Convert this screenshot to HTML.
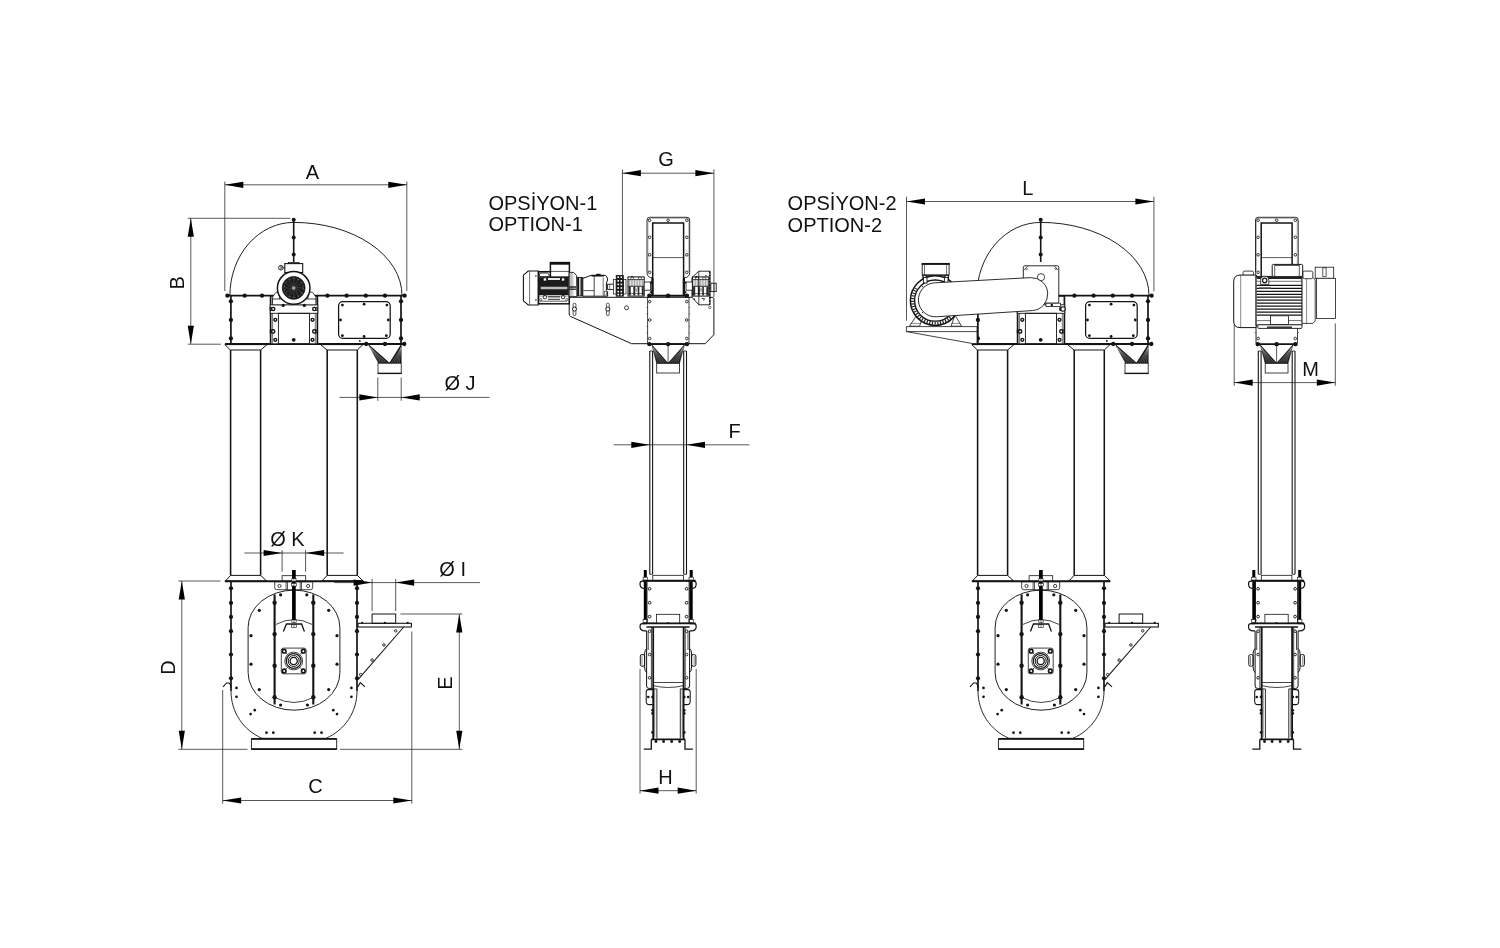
<!DOCTYPE html>
<html lang="tr"><head><meta charset="utf-8"><title>Elevator dimensions</title>
<style>
html,body{margin:0;padding:0;background:#fff}
svg{display:block;will-change:transform;filter:grayscale(1)}
text{font-family:"Liberation Sans",Arial,sans-serif;fill:#111}
</style></head><body>
<svg width="1500" height="948" viewBox="0 0 1500 948">
<rect width="1500" height="948" fill="#fff"/>
<path d="M229.9,295.5 A63.8,73.1 0 0 1 293.7,222.4 A108.3,73.1 0 0 1 402,295.5" fill="none" stroke="#141414" stroke-width="0.95"/>
<line x1="293.7" y1="219.8" x2="293.7" y2="262" stroke="#141414" stroke-width="1.6"/>
<circle cx="293.7" cy="219.8" r="2.0" fill="#141414"/>
<circle cx="293.7" cy="237.5" r="2.0" fill="#141414"/>
<circle cx="293.7" cy="254.6" r="2.0" fill="#141414"/>
<line x1="226.5" y1="295.7" x2="405.2" y2="295.7" stroke="#141414" stroke-width="1.8"/>
<line x1="225" y1="344" x2="405.2" y2="344" stroke="#141414" stroke-width="1.9"/>
<line x1="230.9" y1="295.7" x2="230.9" y2="344" stroke="#141414" stroke-width="1.7"/>
<line x1="401" y1="295.7" x2="401" y2="344" stroke="#141414" stroke-width="1.7"/>
<circle cx="227.4" cy="295.7" r="2.15" fill="#141414"/>
<circle cx="244.7" cy="295.7" r="2.15" fill="#141414"/>
<circle cx="262" cy="295.7" r="2.15" fill="#141414"/>
<circle cx="327.4" cy="295.7" r="2.15" fill="#141414"/>
<circle cx="346.6" cy="295.7" r="2.15" fill="#141414"/>
<circle cx="365.8" cy="295.7" r="2.15" fill="#141414"/>
<circle cx="385" cy="295.7" r="2.15" fill="#141414"/>
<circle cx="404.6" cy="295.7" r="2.15" fill="#141414"/>
<circle cx="230.9" cy="301.3" r="2.15" fill="#141414"/>
<circle cx="401" cy="301.3" r="2.15" fill="#141414"/>
<circle cx="230.9" cy="320" r="2.15" fill="#141414"/>
<circle cx="401" cy="320" r="2.15" fill="#141414"/>
<circle cx="230.9" cy="338.4" r="2.15" fill="#141414"/>
<circle cx="401" cy="338.4" r="2.15" fill="#141414"/>
<circle cx="366.2" cy="344" r="2.15" fill="#141414"/>
<circle cx="385" cy="344" r="2.15" fill="#141414"/>
<circle cx="404.3" cy="344" r="2.15" fill="#141414"/>
<circle cx="359.8" cy="340.9" r="0.9" fill="#141414"/>
<rect x="338.6" y="301.7" width="51.6" height="36.7" rx="4.2" fill="none" stroke="#141414" stroke-width="1.25"/>
<circle cx="342.4" cy="305.1" r="1.4" fill="#141414"/>
<circle cx="364.1" cy="304.2" r="1.4" fill="#141414"/>
<circle cx="386.9" cy="305.1" r="1.4" fill="#141414"/>
<circle cx="340.5" cy="320" r="1.4" fill="#141414"/>
<circle cx="388.3" cy="320" r="1.4" fill="#141414"/>
<circle cx="342.4" cy="335.7" r="1.4" fill="#141414"/>
<circle cx="364.1" cy="336.5" r="1.4" fill="#141414"/>
<circle cx="386.3" cy="335.7" r="1.4" fill="#141414"/>
<polygon points="224.8,344.6 267,344.6 260.6,350 230.4,350" fill="none" stroke="#141414" stroke-width="1.0" stroke-linejoin="round"/>
<polygon points="320.6,344.6 362.9,344.6 357.3,350 327,350" fill="none" stroke="#141414" stroke-width="1.0" stroke-linejoin="round"/>
<line x1="230.6" y1="350" x2="230.6" y2="575.4" stroke="#141414" stroke-width="1.55"/>
<line x1="260.6" y1="350" x2="260.6" y2="575.4" stroke="#141414" stroke-width="1.55"/>
<line x1="327.2" y1="350" x2="327.2" y2="575.4" stroke="#141414" stroke-width="1.55"/>
<line x1="357.3" y1="350" x2="357.3" y2="575.4" stroke="#141414" stroke-width="1.55"/>
<polygon points="230.6,575.4 260.6,575.4 266.7,581 225.4,581" fill="none" stroke="#141414" stroke-width="1.0" stroke-linejoin="round"/>
<polygon points="327.2,575.4 357.3,575.4 363.2,581 321.9,581" fill="none" stroke="#141414" stroke-width="1.0" stroke-linejoin="round"/>
<polygon points="368.5,344.6 378.6,363.1 389.5,363.1" fill="#141414" stroke="#141414" stroke-width="0.6" stroke-linejoin="round"/>
<polygon points="401.2,344.6 401.2,363.1 389.5,363.1" fill="#141414" stroke="#141414" stroke-width="0.6" stroke-linejoin="round"/>
<line x1="370.01" y1="347.38" x2="380.42" y2="363.1" stroke="#bbb" stroke-width="0.35"/>
<line x1="401.2" y1="347.38" x2="391.45" y2="363.1" stroke="#bbb" stroke-width="0.35"/>
<line x1="370.01" y1="347.38" x2="382.23" y2="363.1" stroke="#bbb" stroke-width="0.35"/>
<line x1="401.2" y1="347.38" x2="393.4" y2="363.1" stroke="#bbb" stroke-width="0.35"/>
<line x1="370.01" y1="347.38" x2="384.05" y2="363.1" stroke="#bbb" stroke-width="0.35"/>
<line x1="401.2" y1="347.38" x2="395.35" y2="363.1" stroke="#bbb" stroke-width="0.35"/>
<line x1="370.01" y1="347.38" x2="385.87" y2="363.1" stroke="#bbb" stroke-width="0.35"/>
<line x1="401.2" y1="347.38" x2="397.3" y2="363.1" stroke="#bbb" stroke-width="0.35"/>
<line x1="370.01" y1="347.38" x2="387.68" y2="363.1" stroke="#bbb" stroke-width="0.35"/>
<line x1="401.2" y1="347.38" x2="399.25" y2="363.1" stroke="#bbb" stroke-width="0.35"/>
<rect x="378" y="363.1" width="23.2" height="10.3" rx="0" fill="none" stroke="#141414" stroke-width="0.8"/>
<line x1="377.6" y1="373.4" x2="401.6" y2="373.4" stroke="#141414" stroke-width="1.4"/>
<rect x="270.2" y="296.4" width="47.6" height="47.4" rx="0" fill="#fff" stroke="#141414" stroke-width="0.8"/>
<line x1="270.7" y1="296.4" x2="270.7" y2="343.8" stroke="#141414" stroke-width="1.5"/>
<line x1="317.3" y1="296.4" x2="317.3" y2="343.8" stroke="#141414" stroke-width="1.5"/>
<rect x="270.2" y="304.8" width="47.6" height="8.5" rx="0" fill="#fff" stroke="#141414" stroke-width="0.9"/>
<rect x="278.4" y="313.3" width="31.1" height="30.5" rx="0" fill="none" stroke="#141414" stroke-width="0.9"/>
<line x1="272.6" y1="313.3" x2="272.6" y2="343.8" stroke="#141414" stroke-width="0.6"/>
<line x1="315.3" y1="313.3" x2="315.3" y2="343.8" stroke="#141414" stroke-width="0.6"/>
<rect x="270.2" y="307.6" width="3" height="2.8" rx="0" fill="none" stroke="#141414" stroke-width="0.9"/>
<circle cx="273.2" cy="309" r="1.6" fill="#fff" stroke="#141414" stroke-width="1.4"/>
<rect x="270.2" y="330" width="3" height="2.8" rx="0" fill="none" stroke="#141414" stroke-width="0.9"/>
<circle cx="273.2" cy="331.4" r="1.6" fill="#fff" stroke="#141414" stroke-width="1.4"/>
<rect x="314.3" y="307.6" width="3" height="2.8" rx="0" fill="none" stroke="#141414" stroke-width="0.9"/>
<circle cx="314.3" cy="309" r="1.6" fill="#fff" stroke="#141414" stroke-width="1.4"/>
<rect x="314.3" y="330" width="3" height="2.8" rx="0" fill="none" stroke="#141414" stroke-width="0.9"/>
<circle cx="314.3" cy="331.4" r="1.6" fill="#fff" stroke="#141414" stroke-width="1.4"/>
<circle cx="275.3" cy="319.8" r="1.45" fill="none" stroke="#141414" stroke-width="1.4"/>
<circle cx="275.3" cy="339.8" r="1.45" fill="none" stroke="#141414" stroke-width="1.4"/>
<circle cx="312.5" cy="319.8" r="1.45" fill="none" stroke="#141414" stroke-width="1.4"/>
<circle cx="312.5" cy="339.8" r="1.45" fill="none" stroke="#141414" stroke-width="1.4"/>
<circle cx="293.7" cy="339.8" r="1.9" fill="#141414"/>
<polygon points="272.6,302.7 272.6,297 276,292.2 279.5,292.2 279.5,302.7" fill="#fff" stroke="#141414" stroke-width="0.8" stroke-linejoin="round"/>
<polygon points="315.9,302.7 315.9,297 312.5,292.2 308,292.2 308,302.7" fill="#fff" stroke="#141414" stroke-width="0.8" stroke-linejoin="round"/>
<rect x="272.6" y="299" width="43.3" height="5.8" rx="0" fill="#fff" stroke="#141414" stroke-width="0.8"/>
<rect x="288.5" y="262.4" width="10.5" height="3.1" rx="0" fill="#fff" stroke="#141414" stroke-width="0.8"/>
<rect x="284.8" y="263.6" width="17.9" height="8.9" rx="0" fill="#fff" stroke="#141414" stroke-width="1.1"/>
<circle cx="280.9" cy="267.7" r="2.3" fill="#fff" stroke="#141414" stroke-width="0.9"/>
<line x1="280.9" y1="265.6" x2="280.9" y2="269.8" stroke="#141414" stroke-width="0.7"/>
<line x1="281" y1="267.7" x2="284.8" y2="267.7" stroke="#141414" stroke-width="0.7"/>
<circle cx="293.7" cy="287.9" r="16.3" fill="#fff" stroke="#141414" stroke-width="1.5"/>
<circle cx="293.7" cy="287.9" r="11.4" fill="#1c1c1c" stroke="#141414" stroke-width="0.8"/>
<line x1="295.66" y1="288.3" x2="302.74" y2="293.44" stroke="#777" stroke-width="0.35"/>
<line x1="295.2" y1="289.22" x2="298.76" y2="297.22" stroke="#777" stroke-width="0.35"/>
<line x1="294.34" y1="289.8" x2="293.42" y2="298.5" stroke="#777" stroke-width="0.35"/>
<line x1="293.3" y1="289.86" x2="288.16" y2="296.94" stroke="#777" stroke-width="0.35"/>
<line x1="292.38" y1="289.4" x2="284.38" y2="292.96" stroke="#777" stroke-width="0.35"/>
<line x1="291.8" y1="288.54" x2="283.1" y2="287.62" stroke="#777" stroke-width="0.35"/>
<line x1="291.74" y1="287.5" x2="284.66" y2="282.36" stroke="#777" stroke-width="0.35"/>
<line x1="292.2" y1="286.58" x2="288.64" y2="278.58" stroke="#777" stroke-width="0.35"/>
<line x1="293.06" y1="286" x2="293.98" y2="277.3" stroke="#777" stroke-width="0.35"/>
<line x1="294.1" y1="285.94" x2="299.24" y2="278.86" stroke="#777" stroke-width="0.35"/>
<line x1="295.02" y1="286.4" x2="303.02" y2="282.84" stroke="#777" stroke-width="0.35"/>
<line x1="295.6" y1="287.26" x2="304.3" y2="288.18" stroke="#777" stroke-width="0.35"/>
<circle cx="293.7" cy="287.9" r="9.6" fill="none" stroke="#999" stroke-width="0.5" stroke-dasharray="2 2.4"/>
<circle cx="293.7" cy="287.9" r="1.5" fill="#999" stroke="#ccc" stroke-width="0.5"/>
<circle cx="283.2" cy="305.4" r="1.6" fill="#141414"/>
<circle cx="304.3" cy="305.4" r="1.6" fill="#141414"/>
<line x1="224.8" y1="581.3" x2="363.2" y2="581.3" stroke="#141414" stroke-width="1.9"/>
<line x1="231" y1="581.4" x2="231" y2="691" stroke="#141414" stroke-width="1.7"/>
<line x1="357" y1="581.4" x2="357" y2="691" stroke="#141414" stroke-width="1.7"/>
<circle cx="231" cy="588.3" r="2.1" fill="#141414"/>
<circle cx="357" cy="588.3" r="2.1" fill="#141414"/>
<circle cx="231" cy="602.9" r="2.1" fill="#141414"/>
<circle cx="357" cy="602.9" r="2.1" fill="#141414"/>
<circle cx="231" cy="616.9" r="2.1" fill="#141414"/>
<circle cx="357" cy="616.9" r="2.1" fill="#141414"/>
<circle cx="231" cy="631.2" r="2.1" fill="#141414"/>
<circle cx="357" cy="631.2" r="2.1" fill="#141414"/>
<circle cx="231" cy="654.5" r="2.1" fill="#141414"/>
<circle cx="357" cy="654.5" r="2.1" fill="#141414"/>
<circle cx="231" cy="678.3" r="2.1" fill="#141414"/>
<circle cx="357" cy="678.3" r="2.1" fill="#141414"/>
<path d="M231,691 C231,712 243,730 262,738.3 L326,738.3 C345,730 357,712 357,691" fill="none" stroke="#141414" stroke-width="0.9"/>
<rect x="251.4" y="738.9" width="85.3" height="10.2" rx="0" fill="none" stroke="#141414" stroke-width="0.9"/>
<line x1="251.4" y1="738.9" x2="336.7" y2="738.9" stroke="#141414" stroke-width="1.6"/>
<line x1="251.4" y1="749.1" x2="336.7" y2="749.1" stroke="#141414" stroke-width="1.6"/>
<path d="M223,686.9 L226.6,683 L229,683 Q231,684 231,688" fill="none" stroke="#141414" stroke-width="1.1"/>
<path d="M357.4,687.4 L360.3,682.6 L365,686.9" fill="none" stroke="#141414" stroke-width="1.1"/>
<path d="M248.1,627.5 A45.9,37.4 0 0 1 339.9,627.5 L339.9,672.5 A45.9,37.7 0 0 1 248.1,672.5 Z" fill="none" stroke="#141414" stroke-width="0.95"/>
<circle cx="259.3" cy="610.3" r="1.6" fill="#141414"/>
<circle cx="328.7" cy="610.3" r="1.6" fill="#141414"/>
<circle cx="251" cy="635.7" r="1.6" fill="#141414"/>
<circle cx="337" cy="635.7" r="1.6" fill="#141414"/>
<circle cx="251" cy="664.2" r="1.6" fill="#141414"/>
<circle cx="337" cy="664.2" r="1.6" fill="#141414"/>
<circle cx="259.3" cy="689.6" r="1.6" fill="#141414"/>
<circle cx="328.7" cy="689.6" r="1.6" fill="#141414"/>
<circle cx="280.6" cy="705" r="1.6" fill="#141414"/>
<circle cx="307.4" cy="705" r="1.6" fill="#141414"/>
<circle cx="280.6" cy="594.8" r="1.6" fill="#141414"/>
<circle cx="306.8" cy="594.8" r="1.6" fill="#141414"/>
<circle cx="236.5" cy="687.9" r="1.35" fill="#141414"/>
<circle cx="236.5" cy="696.8" r="1.35" fill="#141414"/>
<circle cx="351.4" cy="687.9" r="1.35" fill="#141414"/>
<circle cx="351.4" cy="696.8" r="1.35" fill="#141414"/>
<circle cx="254.7" cy="710.2" r="1.35" fill="#141414"/>
<circle cx="250.6" cy="714.1" r="1.35" fill="#141414"/>
<circle cx="333.3" cy="710.2" r="1.35" fill="#141414"/>
<circle cx="337" cy="714.1" r="1.35" fill="#141414"/>
<circle cx="266.5" cy="732.7" r="1.35" fill="#141414"/>
<circle cx="273.3" cy="732.7" r="1.35" fill="#141414"/>
<circle cx="314.7" cy="732.7" r="1.35" fill="#141414"/>
<circle cx="321.5" cy="732.7" r="1.35" fill="#141414"/>
<line x1="274.6" y1="594.5" x2="274.6" y2="704.5" stroke="#141414" stroke-width="2.1"/>
<circle cx="274.6" cy="602.7" r="2.2" fill="#141414"/>
<circle cx="274.6" cy="634.1" r="2.2" fill="#141414"/>
<circle cx="274.6" cy="665.7" r="2.2" fill="#141414"/>
<circle cx="274.6" cy="697.3" r="2.2" fill="#141414"/>
<line x1="313.3" y1="594.5" x2="313.3" y2="704.5" stroke="#141414" stroke-width="2.1"/>
<circle cx="313.3" cy="602.7" r="2.2" fill="#141414"/>
<circle cx="313.3" cy="634.1" r="2.2" fill="#141414"/>
<circle cx="313.3" cy="665.7" r="2.2" fill="#141414"/>
<circle cx="313.3" cy="697.3" r="2.2" fill="#141414"/>
<path d="M276,624.4 Q294,614.8 312,624.4" fill="none" stroke="#141414" stroke-width="0.8"/>
<path d="M274.6,697.4 Q294,707.6 313.4,697.4" fill="none" stroke="#141414" stroke-width="0.8"/>
<rect x="282.1" y="575.7" width="23.6" height="5.5" rx="0" fill="none" stroke="#141414" stroke-width="0.8"/>
<path d="M274.7,582 L312.7,582 L312.7,587.5 Q312.7,589.7 310.5,589.7 L276.9,589.7 Q274.7,589.7 274.7,587.5 Z" fill="#fff" stroke="#141414" stroke-width="0.8"/>
<line x1="286.1" y1="582" x2="286.1" y2="589.7" stroke="#141414" stroke-width="0.7"/>
<line x1="287.5" y1="582" x2="287.5" y2="589.7" stroke="#141414" stroke-width="0.7"/>
<line x1="300.2" y1="582" x2="300.2" y2="589.7" stroke="#141414" stroke-width="0.7"/>
<line x1="301.5" y1="582" x2="301.5" y2="589.7" stroke="#141414" stroke-width="0.7"/>
<circle cx="279.5" cy="586" r="1.6" fill="none" stroke="#141414" stroke-width="0.8"/>
<circle cx="308.1" cy="586" r="1.6" fill="none" stroke="#141414" stroke-width="0.8"/>
<line x1="293.9" y1="570" x2="293.9" y2="620" stroke="#000" stroke-width="3.7"/>
<rect x="291.9" y="578.6" width="4.1" height="2.6" rx="0" fill="#fff" stroke="#141414" stroke-width="0.6"/>
<rect x="291.4" y="583.4" width="5.1" height="2.6" rx="0" fill="#fff" stroke="#141414" stroke-width="0.6"/>
<line x1="293.9" y1="578.6" x2="293.9" y2="581.2" stroke="#141414" stroke-width="0.5"/>
<line x1="293.9" y1="583.4" x2="293.9" y2="586" stroke="#141414" stroke-width="0.5"/>
<rect x="291.8" y="620" width="4.4" height="2.6" rx="0" fill="#fff" stroke="#141414" stroke-width="0.6"/>
<rect x="291.6" y="624.8" width="4.8" height="2.8" rx="0" fill="#fff" stroke="#141414" stroke-width="0.6"/>
<line x1="294" y1="620" x2="294" y2="622.6" stroke="#141414" stroke-width="0.5"/>
<line x1="294" y1="624.8" x2="294" y2="627.6" stroke="#141414" stroke-width="0.5"/>
<path d="M283.4,631.6 L286.4,624 L301.6,624 L304.4,631.6" fill="none" stroke="#141414" stroke-width="1.3"/>
<rect x="281.3" y="648.1" width="24.9" height="25.7" rx="2.2" fill="#fff" stroke="#141414" stroke-width="0.8"/>
<line x1="284.2" y1="651.1" x2="287.5" y2="654.6" stroke="#141414" stroke-width="0.7"/>
<line x1="284.2" y1="670.9" x2="287.5" y2="667.4" stroke="#141414" stroke-width="0.7"/>
<line x1="303.2" y1="651.1" x2="299.9" y2="654.6" stroke="#141414" stroke-width="0.7"/>
<line x1="303.2" y1="670.9" x2="299.9" y2="667.4" stroke="#141414" stroke-width="0.7"/>
<circle cx="293.7" cy="661" r="8.9" fill="none" stroke="#141414" stroke-width="0.8"/>
<circle cx="293.7" cy="661" r="7.4" fill="none" stroke="#141414" stroke-width="1.2"/>
<circle cx="293.7" cy="661" r="5.5" fill="none" stroke="#141414" stroke-width="1.0"/>
<circle cx="293.7" cy="661" r="3.6" fill="none" stroke="#141414" stroke-width="1.3"/>
<circle cx="284.2" cy="651.2" r="1.8" fill="#fff" stroke="#141414" stroke-width="1.6"/>
<circle cx="284.2" cy="670.9" r="1.8" fill="#fff" stroke="#141414" stroke-width="1.6"/>
<circle cx="303.3" cy="651.2" r="1.8" fill="#fff" stroke="#141414" stroke-width="1.6"/>
<circle cx="303.3" cy="670.9" r="1.8" fill="#fff" stroke="#141414" stroke-width="1.6"/>
<rect x="372.1" y="614" width="23.6" height="9.3" rx="0" fill="none" stroke="#141414" stroke-width="1.0"/>
<rect x="358" y="623.3" width="53.4" height="3.7" rx="0" fill="none" stroke="#141414" stroke-width="1.1"/>
<line x1="403.7" y1="627" x2="358.2" y2="679.3" stroke="#141414" stroke-width="1.05"/>
<circle cx="395.7" cy="630.8" r="1.25" fill="#fff" stroke="#141414" stroke-width="0.9"/>
<circle cx="383.9" cy="645" r="1.25" fill="#fff" stroke="#141414" stroke-width="0.9"/>
<circle cx="372.1" cy="660.1" r="1.25" fill="#fff" stroke="#141414" stroke-width="0.9"/>
<circle cx="360.7" cy="674.6" r="1.25" fill="#fff" stroke="#141414" stroke-width="0.9"/>
<circle cx="362.2" cy="622.8" r="1.1" fill="#141414"/>
<circle cx="384.9" cy="622.8" r="1.1" fill="#141414"/>
<circle cx="407.7" cy="622.8" r="1.1" fill="#141414"/>
<line x1="224.8" y1="181.5" x2="224.8" y2="291" stroke="#222" stroke-width="0.75"/>
<line x1="406.8" y1="181.5" x2="406.8" y2="291" stroke="#222" stroke-width="0.75"/>
<line x1="224.8" y1="184.8" x2="406.8" y2="184.8" stroke="#222" stroke-width="0.75"/>
<polygon points="224.8,184.8 243.3,181.7 243.3,187.9" fill="#000"/>
<polygon points="406.8,184.8 388.3,181.7 388.3,187.9" fill="#000"/>
<text x="312.5" y="178.6" font-size="20" text-anchor="middle">A</text>
<line x1="187.8" y1="218.3" x2="290.3" y2="218.3" stroke="#222" stroke-width="0.75"/>
<line x1="187.8" y1="344.2" x2="220.9" y2="344.2" stroke="#222" stroke-width="0.75"/>
<line x1="190.8" y1="218.3" x2="190.8" y2="343.8" stroke="#222" stroke-width="0.75"/>
<polygon points="190.8,218.3 187.7,236.8 193.9,236.8" fill="#000"/>
<polygon points="190.8,344.2 187.7,325.7 193.9,325.7" fill="#000"/>
<text x="183.8" y="282.8" font-size="20" text-anchor="middle" transform="rotate(-90 183.8 282.8)">B</text>
<line x1="339.5" y1="397.4" x2="489.4" y2="397.4" stroke="#222" stroke-width="0.75"/>
<line x1="377.8" y1="377.6" x2="377.8" y2="400.8" stroke="#222" stroke-width="0.75"/>
<line x1="401.2" y1="377.6" x2="401.2" y2="400.8" stroke="#222" stroke-width="0.75"/>
<polygon points="377.8,397.4 359.3,394.3 359.3,400.5" fill="#000"/>
<polygon points="401.2,397.4 419.7,394.3 419.7,400.5" fill="#000"/>
<text x="444.5" y="390.3" font-size="20" text-anchor="start">Ø J</text>
<line x1="244.4" y1="553" x2="343.6" y2="553" stroke="#222" stroke-width="0.75"/>
<line x1="282.1" y1="550" x2="282.1" y2="571.7" stroke="#222" stroke-width="0.75"/>
<line x1="305.6" y1="550" x2="305.6" y2="571.7" stroke="#222" stroke-width="0.75"/>
<polygon points="282.1,553 263.6,549.9 263.6,556.1" fill="#000"/>
<polygon points="305.6,553 324.1,549.9 324.1,556.1" fill="#000"/>
<text x="270.2" y="545.9" font-size="20" text-anchor="start">Ø K</text>
<line x1="334.3" y1="582.6" x2="480" y2="582.6" stroke="#222" stroke-width="0.75"/>
<line x1="372.1" y1="578.9" x2="372.1" y2="611" stroke="#222" stroke-width="0.75"/>
<line x1="395.7" y1="578.9" x2="395.7" y2="611" stroke="#222" stroke-width="0.75"/>
<polygon points="372.1,582.6 353.6,579.5 353.6,585.7" fill="#000"/>
<polygon points="395.7,582.6 414.2,579.5 414.2,585.7" fill="#000"/>
<text x="439.3" y="575.9" font-size="20" text-anchor="start">Ø I</text>
<line x1="178.3" y1="581" x2="220.6" y2="581" stroke="#222" stroke-width="0.75"/>
<line x1="178.3" y1="749.3" x2="247.5" y2="749.3" stroke="#222" stroke-width="0.75"/>
<line x1="181.8" y1="581" x2="181.8" y2="749.3" stroke="#222" stroke-width="0.75"/>
<polygon points="181.8,581 178.7,599.5 184.9,599.5" fill="#000"/>
<polygon points="181.8,749.3 178.7,730.8 184.9,730.8" fill="#000"/>
<text x="175.2" y="667.4" font-size="20" text-anchor="middle" transform="rotate(-90 175.2 667.4)">D</text>
<line x1="400.4" y1="614" x2="462.4" y2="614" stroke="#222" stroke-width="0.75"/>
<line x1="339.9" y1="749.3" x2="462.4" y2="749.3" stroke="#222" stroke-width="0.75"/>
<line x1="459.3" y1="614" x2="459.3" y2="749.3" stroke="#222" stroke-width="0.75"/>
<polygon points="459.3,614 456.2,632.5 462.4,632.5" fill="#000"/>
<polygon points="459.3,749.3 456.2,730.8 462.4,730.8" fill="#000"/>
<text x="452" y="683.2" font-size="20" text-anchor="middle" transform="rotate(-90 452 683.2)">E</text>
<line x1="222.7" y1="690" x2="222.7" y2="803.6" stroke="#222" stroke-width="0.75"/>
<line x1="411.8" y1="631.6" x2="411.8" y2="803.6" stroke="#222" stroke-width="0.75"/>
<line x1="222.7" y1="800.5" x2="411.8" y2="800.5" stroke="#222" stroke-width="0.75"/>
<polygon points="222.7,800.5 241.2,797.4 241.2,803.6" fill="#000"/>
<polygon points="411.8,800.5 393.3,797.4 393.3,803.6" fill="#000"/>
<text x="315.4" y="793" font-size="20" text-anchor="middle">C</text>
<path d="M571.4,297.3 L712.2,297.3 Q713.9,297.3 713.9,299 L713.9,334.7 L705.2,343.7 L631.6,343.7 L570.4,316.4 Q569.2,315.6 569.2,314 L569.2,299.5 Q569.2,297.3 571.4,297.3 Z" fill="none" stroke="#141414" stroke-width="1.0"/>
<path d="M652.7,277.8 Q647,277.8 647,272.4 L647,220 Q647,217.3 649.7,217.3 L687,217.3 Q689.7,217.3 689.7,220 L689.7,272.4 Q689.7,277.8 683.6,277.8" fill="none" stroke="#141414" stroke-width="0.9"/>
<path d="M648,272 L648,220.4 Q648,218.4 650,218.4 L686.7,218.4 Q688.7,218.4 688.7,220.4 L688.7,272" fill="none" stroke="#666" stroke-width="0.45"/>
<path d="M652.7,295.4 L652.7,223.1 L683.6,223.1 L683.6,295.4" fill="none" stroke="#141414" stroke-width="1.5"/>
<line x1="652.7" y1="257.6" x2="683.6" y2="257.6" stroke="#141414" stroke-width="0.7"/>
<circle cx="649.6" cy="220.3" r="1.3" fill="none" stroke="#141414" stroke-width="0.85"/>
<circle cx="686.8" cy="220.3" r="1.3" fill="none" stroke="#141414" stroke-width="0.85"/>
<circle cx="649.6" cy="237.3" r="1.3" fill="none" stroke="#141414" stroke-width="0.85"/>
<circle cx="686.8" cy="237.3" r="1.3" fill="none" stroke="#141414" stroke-width="0.85"/>
<circle cx="649.6" cy="254.8" r="1.3" fill="none" stroke="#141414" stroke-width="0.85"/>
<circle cx="686.8" cy="254.8" r="1.3" fill="none" stroke="#141414" stroke-width="0.85"/>
<circle cx="649.6" cy="272.3" r="1.3" fill="none" stroke="#141414" stroke-width="0.85"/>
<circle cx="686.8" cy="272.3" r="1.3" fill="none" stroke="#141414" stroke-width="0.85"/>
<circle cx="668.1" cy="220.3" r="1.3" fill="none" stroke="#141414" stroke-width="0.85"/>
<line x1="648" y1="295.7" x2="688.3" y2="295.7" stroke="#141414" stroke-width="1.9"/>
<circle cx="649.3" cy="295.7" r="2.2" fill="#141414"/>
<circle cx="668.1" cy="295.7" r="2.2" fill="#141414"/>
<circle cx="686.9" cy="295.7" r="2.2" fill="#141414"/>
<path d="M647.6,297 L647.6,343.5 M689,297 L689,343.5" fill="none" stroke="#141414" stroke-width="0.8"/>
<line x1="646.6" y1="307" x2="647.6" y2="308" stroke="#141414" stroke-width="0.6"/>
<line x1="690" y1="307" x2="689" y2="308" stroke="#141414" stroke-width="0.6"/>
<line x1="646.6" y1="313.5" x2="647.6" y2="314.5" stroke="#141414" stroke-width="0.6"/>
<line x1="690" y1="313.5" x2="689" y2="314.5" stroke="#141414" stroke-width="0.6"/>
<line x1="646.6" y1="326" x2="647.6" y2="327" stroke="#141414" stroke-width="0.6"/>
<line x1="690" y1="326" x2="689" y2="327" stroke="#141414" stroke-width="0.6"/>
<line x1="646.6" y1="332.5" x2="647.6" y2="333.5" stroke="#141414" stroke-width="0.6"/>
<line x1="690" y1="332.5" x2="689" y2="333.5" stroke="#141414" stroke-width="0.6"/>
<circle cx="649.7" cy="301.6" r="1.3" fill="none" stroke="#141414" stroke-width="0.85"/>
<circle cx="686.8" cy="301.6" r="1.3" fill="none" stroke="#141414" stroke-width="0.85"/>
<circle cx="649.7" cy="320" r="1.3" fill="none" stroke="#141414" stroke-width="0.85"/>
<circle cx="686.8" cy="320" r="1.3" fill="none" stroke="#141414" stroke-width="0.85"/>
<circle cx="649.7" cy="338.5" r="1.3" fill="none" stroke="#141414" stroke-width="0.85"/>
<circle cx="686.8" cy="338.5" r="1.3" fill="none" stroke="#141414" stroke-width="0.85"/>
<line x1="648" y1="344.1" x2="688.3" y2="344.1" stroke="#141414" stroke-width="1.9"/>
<circle cx="649.3" cy="344.1" r="2.2" fill="#141414"/>
<circle cx="668.1" cy="344.1" r="2.2" fill="#141414"/>
<circle cx="686.9" cy="344.1" r="2.2" fill="#141414"/>
<polygon points="651.9,345 656.7,363.2 668.1,363.2" fill="#141414" stroke="#141414" stroke-width="0.6" stroke-linejoin="round"/>
<polygon points="684.3,345 679.5,363.2 668.1,363.2" fill="#141414" stroke="#141414" stroke-width="0.6" stroke-linejoin="round"/>
<line x1="652.9" y1="347.5" x2="658.6" y2="363.2" stroke="#bbb" stroke-width="0.35"/>
<line x1="683.3" y1="347.5" x2="677.6" y2="363.2" stroke="#bbb" stroke-width="0.35"/>
<line x1="652.9" y1="347.5" x2="660.5" y2="363.2" stroke="#bbb" stroke-width="0.35"/>
<line x1="683.3" y1="347.5" x2="675.7" y2="363.2" stroke="#bbb" stroke-width="0.35"/>
<line x1="652.9" y1="347.5" x2="662.4" y2="363.2" stroke="#bbb" stroke-width="0.35"/>
<line x1="683.3" y1="347.5" x2="673.8" y2="363.2" stroke="#bbb" stroke-width="0.35"/>
<line x1="652.9" y1="347.5" x2="664.3" y2="363.2" stroke="#bbb" stroke-width="0.35"/>
<line x1="683.3" y1="347.5" x2="671.9" y2="363.2" stroke="#bbb" stroke-width="0.35"/>
<line x1="652.9" y1="347.5" x2="666.2" y2="363.2" stroke="#bbb" stroke-width="0.35"/>
<line x1="683.3" y1="347.5" x2="670" y2="363.2" stroke="#bbb" stroke-width="0.35"/>
<line x1="668.1" y1="345" x2="668.1" y2="363.2" stroke="#141414" stroke-width="0.7"/>
<rect x="656.7" y="363.2" width="22.8" height="9.8" rx="0" fill="none" stroke="#141414" stroke-width="0.8"/>
<line x1="649.8" y1="351" x2="649.8" y2="574.3" stroke="#141414" stroke-width="1.1"/>
<line x1="652.6" y1="351" x2="652.6" y2="574.3" stroke="#141414" stroke-width="1.1"/>
<line x1="683.7" y1="351" x2="683.7" y2="574.3" stroke="#141414" stroke-width="1.1"/>
<line x1="686.5" y1="351" x2="686.5" y2="574.3" stroke="#141414" stroke-width="1.1"/>
<line x1="649.8" y1="351" x2="652.6" y2="351" stroke="#141414" stroke-width="0.8"/>
<line x1="683.7" y1="351" x2="686.5" y2="351" stroke="#141414" stroke-width="0.8"/>
<line x1="649.8" y1="574.3" x2="652.6" y2="574.3" stroke="#141414" stroke-width="0.8"/>
<line x1="683.7" y1="574.3" x2="686.5" y2="574.3" stroke="#141414" stroke-width="0.8"/>
<rect x="652.8" y="575.3" width="30.6" height="5.1" rx="0" fill="none" stroke="#141414" stroke-width="0.8"/>
<line x1="645.3" y1="570" x2="645.3" y2="621.5" stroke="#000" stroke-width="3.0"/>
<rect x="643.1" y="577.2" width="4.4" height="3" rx="0" fill="#fff" stroke="#141414" stroke-width="0.6"/>
<rect x="643.1" y="619.6" width="4.4" height="3" rx="0" fill="#fff" stroke="#141414" stroke-width="0.6"/>
<line x1="691.2" y1="570" x2="691.2" y2="621.5" stroke="#000" stroke-width="3.0"/>
<rect x="689" y="577.2" width="4.4" height="3" rx="0" fill="#fff" stroke="#141414" stroke-width="0.6"/>
<rect x="689" y="619.6" width="4.4" height="3" rx="0" fill="#fff" stroke="#141414" stroke-width="0.6"/>
<line x1="642.6" y1="580.7" x2="695.6" y2="580.7" stroke="#141414" stroke-width="1.8"/>
<path d="M647,581.2 L642.4,581.2 Q640,581.2 640,584 Q640,588.6 645,588.6 L647,588.6" fill="none" stroke="#141414" stroke-width="1.2"/>
<path d="M689.2,581.2 L693.8,581.2 Q696.2,581.2 696.2,584 Q696.2,588.6 691.2,588.6 L689.2,588.6" fill="none" stroke="#141414" stroke-width="1.2"/>
<rect x="646.9" y="581.2" width="42.3" height="42.1" rx="0" fill="none" stroke="#141414" stroke-width="1.1"/>
<circle cx="649.6" cy="588.8" r="1.35" fill="#fff" stroke="#141414" stroke-width="0.95"/>
<circle cx="686.6" cy="588.8" r="1.35" fill="#fff" stroke="#141414" stroke-width="0.95"/>
<circle cx="649.6" cy="602.7" r="1.35" fill="#fff" stroke="#141414" stroke-width="0.95"/>
<circle cx="686.6" cy="602.7" r="1.35" fill="#fff" stroke="#141414" stroke-width="0.95"/>
<circle cx="649.6" cy="616.6" r="1.35" fill="#fff" stroke="#141414" stroke-width="0.95"/>
<circle cx="686.6" cy="616.6" r="1.35" fill="#fff" stroke="#141414" stroke-width="0.95"/>
<rect x="656.4" y="614.3" width="23.3" height="9" rx="0" fill="#fff" stroke="#141414" stroke-width="0.8"/>
<circle cx="668" cy="623" r="0.9" fill="#141414"/>
<line x1="642.6" y1="623.4" x2="695.6" y2="623.4" stroke="#141414" stroke-width="1.7"/>
<line x1="646.5" y1="627" x2="689.6" y2="627" stroke="#141414" stroke-width="1.4"/>
<path d="M646.5,623.6 L642.4,623.6 Q640,623.6 640,626.4 Q640,630.8 645,630.8 L646.5,630.8" fill="none" stroke="#141414" stroke-width="1.2"/>
<path d="M689.6,623.6 L693.8,623.6 Q696.2,623.6 696.2,626.4 Q696.2,630.8 691.2,630.8 L689.6,630.8" fill="none" stroke="#141414" stroke-width="1.2"/>
<line x1="653.2" y1="627" x2="653.2" y2="739.3" stroke="#141414" stroke-width="1.8"/>
<line x1="683.6" y1="627" x2="683.6" y2="739.3" stroke="#141414" stroke-width="1.8"/>
<line x1="651.4" y1="627" x2="651.4" y2="688" stroke="#141414" stroke-width="0.8"/>
<line x1="685.2" y1="627" x2="685.2" y2="688" stroke="#141414" stroke-width="0.8"/>
<path d="M646.6,630.8 L646.6,686 Q646.6,688.4 649,688.4 L653,688.4" fill="none" stroke="#141414" stroke-width="1.0"/>
<path d="M689.6,630.8 L689.6,686 Q689.6,688.4 687.2,688.4 L683.6,688.4" fill="none" stroke="#141414" stroke-width="1.0"/>
<line x1="648.2" y1="630.8" x2="648.2" y2="650" stroke="#141414" stroke-width="0.8"/>
<line x1="688" y1="630.8" x2="688" y2="650" stroke="#141414" stroke-width="0.8"/>
<circle cx="649.6" cy="631.2" r="1.3" fill="#fff" stroke="#141414" stroke-width="0.9"/>
<circle cx="686.6" cy="631.2" r="1.3" fill="#fff" stroke="#141414" stroke-width="0.9"/>
<circle cx="649.6" cy="654.5" r="1.3" fill="#fff" stroke="#141414" stroke-width="0.9"/>
<circle cx="686.6" cy="654.5" r="1.3" fill="#fff" stroke="#141414" stroke-width="0.9"/>
<circle cx="649.6" cy="677.8" r="1.3" fill="#fff" stroke="#141414" stroke-width="0.9"/>
<circle cx="686.6" cy="677.8" r="1.3" fill="#fff" stroke="#141414" stroke-width="0.9"/>
<path d="M646.6,648.5 Q644.6,650 644.6,654 L644.6,667 Q644.6,671 646.6,672.5" fill="none" stroke="#141414" stroke-width="1.0"/>
<path d="M689.6,648.5 Q691.6,650 691.6,654 L691.6,667 Q691.6,671 689.6,672.5" fill="none" stroke="#141414" stroke-width="1.0"/>
<rect x="640.3" y="654.6" width="4.3" height="11.6" rx="1.6" fill="none" stroke="#141414" stroke-width="1.0"/>
<rect x="691.6" y="654.6" width="4.3" height="11.6" rx="1.6" fill="none" stroke="#141414" stroke-width="1.0"/>
<line x1="642" y1="656" x2="642" y2="665" stroke="#141414" stroke-width="0.5"/>
<line x1="694.2" y1="656" x2="694.2" y2="665" stroke="#141414" stroke-width="0.5"/>
<path d="M653,689.6 L648.4,689.6 Q646.2,689.6 646.2,692 L646.2,701.5 Q646.2,704.6 649.4,704.6 L653,704.6" fill="none" stroke="#141414" stroke-width="1.05"/>
<path d="M683.6,689.6 L688,689.6 Q690.2,689.6 690.2,692 L690.2,701.5 Q690.2,704.6 687,704.6 L683.6,704.6" fill="none" stroke="#141414" stroke-width="1.05"/>
<line x1="653.2" y1="682.5" x2="683.6" y2="682.5" stroke="#141414" stroke-width="0.8"/>
<path d="M653.2,685.6 Q668.4,689.4 683.6,685.6" fill="none" stroke="#141414" stroke-width="0.8"/>
<line x1="656.9" y1="688.9" x2="656.9" y2="738.5" stroke="#141414" stroke-width="0.9"/>
<line x1="680.3" y1="688.9" x2="680.3" y2="738.5" stroke="#141414" stroke-width="0.9"/>
<line x1="653.2" y1="688.9" x2="656.9" y2="688.9" stroke="#141414" stroke-width="0.8"/>
<line x1="680.3" y1="688.9" x2="683.6" y2="688.9" stroke="#141414" stroke-width="0.8"/>
<line x1="654.7" y1="688.9" x2="654.7" y2="737.2" stroke="#141414" stroke-width="0.5"/>
<line x1="682.2" y1="688.9" x2="682.2" y2="737.2" stroke="#141414" stroke-width="0.5"/>
<circle cx="652.6" cy="697" r="1.4" fill="#141414"/>
<circle cx="684.2" cy="697" r="1.4" fill="#141414"/>
<circle cx="652.6" cy="710.3" r="1.4" fill="#141414"/>
<circle cx="684.2" cy="710.3" r="1.4" fill="#141414"/>
<circle cx="652.6" cy="713.4" r="1.4" fill="#141414"/>
<circle cx="684.2" cy="713.4" r="1.4" fill="#141414"/>
<circle cx="652.6" cy="732.4" r="1.4" fill="#141414"/>
<circle cx="684.2" cy="732.4" r="1.4" fill="#141414"/>
<circle cx="648.3" cy="697" r="1.3" fill="#141414"/>
<circle cx="688.2" cy="697" r="1.3" fill="#141414"/>
<line x1="651.2" y1="739.4" x2="685.2" y2="739.4" stroke="#141414" stroke-width="1.8"/>
<circle cx="656" cy="741.5" r="1.4" fill="#141414"/>
<circle cx="663.6" cy="741.5" r="1.4" fill="#141414"/>
<circle cx="671.7" cy="741.5" r="1.4" fill="#141414"/>
<circle cx="679.7" cy="741.5" r="1.4" fill="#141414"/>
<path d="M651.3,739.4 L651.3,749.2 L643.8,749.2" fill="none" stroke="#141414" stroke-width="1.3"/>
<path d="M685,739.4 L685,749.2 L692.9,749.2" fill="none" stroke="#141414" stroke-width="1.3"/>
<rect x="573.1" y="303.1" width="2.8" height="12.5" rx="1.4" fill="#fff" stroke="#141414" stroke-width="0.7"/>
<circle cx="574.5" cy="309.1" r="2" fill="#fff" stroke="#141414" stroke-width="0.9"/>
<rect x="606.4" y="303.1" width="2.8" height="12.5" rx="1.4" fill="#fff" stroke="#141414" stroke-width="0.7"/>
<circle cx="607.8" cy="309.1" r="2" fill="#fff" stroke="#141414" stroke-width="0.9"/>
<circle cx="626.5" cy="307.8" r="2" fill="none" stroke="#141414" stroke-width="0.8"/>
<circle cx="709.8" cy="307.5" r="1.2" fill="none" stroke="#141414" stroke-width="0.6"/>
<path d="M528.2,271 L538.2,271 L538.2,305 L528.2,305 L523.4,300.8 L523.4,275.2 Z" fill="#fff" stroke="#141414" stroke-width="1.1"/>
<line x1="529.6" y1="271" x2="529.6" y2="305" stroke="#141414" stroke-width="0.6"/>
<circle cx="535.9" cy="276" r="0.8" fill="#141414"/>
<circle cx="535.9" cy="300" r="0.8" fill="#141414"/>
<rect x="538.6" y="271.7" width="30.6" height="32.1" rx="0" fill="#fff" stroke="#141414" stroke-width="1.5"/>
<rect x="538.6" y="277.1" width="30" height="17.9" rx="0" fill="#1b1b1b" stroke="none" stroke-width="0"/>
<rect x="540.7" y="286.7" width="26.6" height="2.6" rx="0" fill="#a8a8a8" stroke="none" stroke-width="0"/>
<line x1="540.7" y1="288" x2="567.3" y2="288" stroke="#eee" stroke-width="0.6"/>
<path d="M539.6,276.6 L539.6,274.2 Q539.6,273 541,273 L547.5,273 Q549,273.2 549.6,276.6 Z" fill="#fff" stroke="#141414" stroke-width="0.9"/>
<rect x="548" y="278" width="12" height="2" rx="0" fill="#e8e8e8" stroke="none" stroke-width="0"/>
<rect x="543.2" y="277.8" width="3.4" height="3.3" rx="0.9" fill="#fff" stroke="#141414" stroke-width="0.9"/>
<rect x="543.3" y="295.5" width="3.2" height="3.2" rx="0.9" fill="#fff" stroke="#141414" stroke-width="0.9"/>
<rect x="561.4" y="277.8" width="3.4" height="3.3" rx="0.9" fill="#fff" stroke="#141414" stroke-width="0.9"/>
<rect x="561.5" y="295.5" width="3.2" height="3.2" rx="0.9" fill="#fff" stroke="#141414" stroke-width="0.9"/>
<line x1="539" y1="296" x2="568.6" y2="296" stroke="#141414" stroke-width="0.5"/>
<rect x="548" y="296.3" width="12" height="1.1" rx="0" fill="#222" stroke="none" stroke-width="0"/>
<line x1="548" y1="299.3" x2="560" y2="299.3" stroke="#141414" stroke-width="0.9"/>
<line x1="540" y1="301.2" x2="567" y2="301.2" stroke="#141414" stroke-width="0.7"/>
<rect x="539.6" y="298.6" width="2.2" height="2" rx="0.6" fill="#fff" stroke="#141414" stroke-width="0.6"/>
<rect x="565.8" y="298.6" width="2.2" height="2" rx="0.6" fill="#fff" stroke="#141414" stroke-width="0.6"/>
<rect x="550.4" y="262.6" width="19" height="14.5" rx="0" fill="#fff" stroke="#141414" stroke-width="1.5"/>
<rect x="550" y="262" width="19.8" height="2.7" rx="0" fill="#111" stroke="none" stroke-width="0"/>
<line x1="551" y1="271.4" x2="569" y2="271.4" stroke="#141414" stroke-width="0.7"/>
<path d="M569.2,272.4 L573.7,272.4 L576.6,275.6 L576.9,296.6 L569.2,296.6 Z" fill="#fff" stroke="#141414" stroke-width="0.9"/>
<line x1="570.4" y1="273" x2="570.4" y2="296.4" stroke="#777" stroke-width="0.5"/>
<line x1="571.6" y1="273" x2="571.6" y2="296.4" stroke="#777" stroke-width="0.5"/>
<line x1="572.8" y1="273" x2="572.8" y2="296.4" stroke="#777" stroke-width="0.5"/>
<line x1="569.4" y1="287" x2="576" y2="287" stroke="#141414" stroke-width="1.4"/>
<line x1="569.4" y1="289.2" x2="576" y2="289.2" stroke="#141414" stroke-width="1.2"/>
<rect x="577.4" y="277.4" width="5.4" height="18.5" rx="0" fill="#fff" stroke="#141414" stroke-width="0.9"/>
<line x1="578.5" y1="277.6" x2="578.5" y2="295.8" stroke="#141414" stroke-width="1.3"/>
<line x1="580.4" y1="277.6" x2="580.4" y2="295.8" stroke="#141414" stroke-width="0.6"/>
<line x1="581.8" y1="277.6" x2="581.8" y2="295.8" stroke="#141414" stroke-width="1.4"/>
<path d="M582.8,296.2 L582.8,278.4 L591,275.4 L605.6,275.4 L607,277 L607.6,280 L606.4,283 L606.4,290.6 L607.6,292 L607.6,296.2 Z" fill="#fff" stroke="#141414" stroke-width="1.0"/>
<line x1="591.6" y1="275.7" x2="603.8" y2="275.7" stroke="#141414" stroke-width="1.7"/>
<rect x="596.1" y="273.8" width="4.5" height="1.2" rx="0" fill="#111" stroke="none" stroke-width="0"/>
<line x1="594.2" y1="275.6" x2="594.2" y2="296.2" stroke="#141414" stroke-width="0.8"/>
<line x1="583.3" y1="290.6" x2="594.2" y2="290.6" stroke="#141414" stroke-width="0.7"/>
<line x1="603.2" y1="277.5" x2="603.2" y2="296.2" stroke="#141414" stroke-width="0.6"/>
<rect x="604.6" y="291.4" width="2" height="3.6" rx="0" fill="#fff" stroke="#141414" stroke-width="0.5"/>
<rect x="607.6" y="284.2" width="6.4" height="5.2" rx="0" fill="#fff" stroke="#141414" stroke-width="0.9"/>
<line x1="609.6" y1="284.2" x2="609.6" y2="289.4" stroke="#141414" stroke-width="0.5"/>
<rect x="613.4" y="279.4" width="2.8" height="14.6" rx="0" fill="#fff" stroke="#141414" stroke-width="0.7"/>
<rect x="623.2" y="279.4" width="2.8" height="14.6" rx="0" fill="#fff" stroke="#141414" stroke-width="0.7"/>
<rect x="616.2" y="275.4" width="7.1" height="20.8" rx="0" fill="#1a1a1a" stroke="#141414" stroke-width="0.8"/>
<rect x="617.4" y="276.4" width="1.6" height="1.6" rx="0" fill="#fff" stroke="none" stroke-width="0"/>
<rect x="620.5" y="276.4" width="1.6" height="1.6" rx="0" fill="#fff" stroke="none" stroke-width="0"/>
<rect x="617.4" y="280" width="1.6" height="1.6" rx="0" fill="#fff" stroke="none" stroke-width="0"/>
<rect x="620.5" y="280" width="1.6" height="1.6" rx="0" fill="#fff" stroke="none" stroke-width="0"/>
<rect x="617.4" y="283.6" width="1.6" height="1.6" rx="0" fill="#fff" stroke="none" stroke-width="0"/>
<rect x="620.5" y="283.6" width="1.6" height="1.6" rx="0" fill="#fff" stroke="none" stroke-width="0"/>
<rect x="617.4" y="287.2" width="1.6" height="1.6" rx="0" fill="#fff" stroke="none" stroke-width="0"/>
<rect x="620.5" y="287.2" width="1.6" height="1.6" rx="0" fill="#fff" stroke="none" stroke-width="0"/>
<rect x="617.4" y="290.8" width="1.6" height="1.6" rx="0" fill="#fff" stroke="none" stroke-width="0"/>
<rect x="620.5" y="290.8" width="1.6" height="1.6" rx="0" fill="#fff" stroke="none" stroke-width="0"/>
<rect x="617.4" y="293.8" width="1.6" height="1.6" rx="0" fill="#fff" stroke="none" stroke-width="0"/>
<rect x="620.5" y="293.8" width="1.6" height="1.6" rx="0" fill="#fff" stroke="none" stroke-width="0"/>
<rect x="628" y="276.9" width="16.2" height="19.2" rx="0" fill="#fff" stroke="#141414" stroke-width="1.0"/>
<rect x="631.24" y="275.9" width="1.62" height="1" rx="0" fill="#111" stroke="none" stroke-width="0"/>
<line x1="628" y1="279.6" x2="644.2" y2="279.6" stroke="#141414" stroke-width="0.8"/>
<rect x="630.92" y="277.4" width="2.92" height="1.8" rx="0" fill="#fff" stroke="#141414" stroke-width="0.5"/>
<rect x="638.37" y="277.4" width="2.92" height="1.8" rx="0" fill="#fff" stroke="#141414" stroke-width="0.5"/>
<line x1="629.62" y1="280" x2="629.62" y2="286" stroke="#555" stroke-width="0.55"/>
<line x1="631.24" y1="280" x2="631.24" y2="286" stroke="#555" stroke-width="0.55"/>
<line x1="632.86" y1="280" x2="632.86" y2="286" stroke="#555" stroke-width="0.55"/>
<line x1="634.48" y1="280" x2="634.48" y2="286" stroke="#555" stroke-width="0.55"/>
<line x1="636.1" y1="280" x2="636.1" y2="286" stroke="#555" stroke-width="0.55"/>
<line x1="637.72" y1="280" x2="637.72" y2="286" stroke="#555" stroke-width="0.55"/>
<line x1="639.34" y1="280" x2="639.34" y2="286" stroke="#555" stroke-width="0.55"/>
<line x1="640.96" y1="280" x2="640.96" y2="286" stroke="#555" stroke-width="0.55"/>
<line x1="642.58" y1="280" x2="642.58" y2="286" stroke="#555" stroke-width="0.55"/>
<line x1="628" y1="286.3" x2="644.2" y2="286.3" stroke="#141414" stroke-width="0.9"/>
<rect x="628.65" y="286.8" width="2.11" height="8.8" rx="0" fill="#2a2a2a" stroke="none" stroke-width="0"/>
<rect x="633.35" y="286.8" width="1.94" height="8.8" rx="0" fill="#2a2a2a" stroke="none" stroke-width="0"/>
<rect x="637.72" y="286.8" width="1.62" height="8.8" rx="0" fill="#2a2a2a" stroke="none" stroke-width="0"/>
<rect x="641.77" y="286.8" width="1.94" height="8.8" rx="0" fill="#2a2a2a" stroke="none" stroke-width="0"/>
<path d="M635.45,287.4 L636.5,291.6 L637.56,287.4" fill="none" stroke="#666" stroke-width="0.6"/>
<line x1="628" y1="293.6" x2="644.2" y2="293.6" stroke="#141414" stroke-width="0.6"/>
<rect x="644.2" y="282" width="6.4" height="8.2" rx="0" fill="#fff" stroke="#141414" stroke-width="0.8"/>
<path d="M692,277.6 L698.8,271.2 L710,271.2 L710,304.8 L698.8,304.8 L692,297.2 Z" fill="#fff" stroke="#141414" stroke-width="0.9"/>
<line x1="698.8" y1="271.2" x2="698.8" y2="304.8" stroke="#141414" stroke-width="0.8"/>
<rect x="686" y="282" width="6.4" height="8.2" rx="0" fill="#fff" stroke="#141414" stroke-width="0.8"/>
<rect x="692.4" y="276.9" width="16.4" height="19.2" rx="0" fill="#fff" stroke="#141414" stroke-width="1.0"/>
<rect x="695.68" y="275.9" width="1.64" height="1" rx="0" fill="#111" stroke="none" stroke-width="0"/>
<line x1="692.4" y1="279.6" x2="708.8" y2="279.6" stroke="#141414" stroke-width="0.8"/>
<rect x="695.35" y="277.4" width="2.95" height="1.8" rx="0" fill="#fff" stroke="#141414" stroke-width="0.5"/>
<rect x="702.9" y="277.4" width="2.95" height="1.8" rx="0" fill="#fff" stroke="#141414" stroke-width="0.5"/>
<line x1="694.04" y1="280" x2="694.04" y2="286" stroke="#555" stroke-width="0.55"/>
<line x1="695.68" y1="280" x2="695.68" y2="286" stroke="#555" stroke-width="0.55"/>
<line x1="697.32" y1="280" x2="697.32" y2="286" stroke="#555" stroke-width="0.55"/>
<line x1="698.96" y1="280" x2="698.96" y2="286" stroke="#555" stroke-width="0.55"/>
<line x1="700.6" y1="280" x2="700.6" y2="286" stroke="#555" stroke-width="0.55"/>
<line x1="702.24" y1="280" x2="702.24" y2="286" stroke="#555" stroke-width="0.55"/>
<line x1="703.88" y1="280" x2="703.88" y2="286" stroke="#555" stroke-width="0.55"/>
<line x1="705.52" y1="280" x2="705.52" y2="286" stroke="#555" stroke-width="0.55"/>
<line x1="707.16" y1="280" x2="707.16" y2="286" stroke="#555" stroke-width="0.55"/>
<line x1="692.4" y1="286.3" x2="708.8" y2="286.3" stroke="#141414" stroke-width="0.9"/>
<rect x="693.06" y="286.8" width="2.13" height="8.8" rx="0" fill="#2a2a2a" stroke="none" stroke-width="0"/>
<rect x="697.81" y="286.8" width="1.97" height="8.8" rx="0" fill="#2a2a2a" stroke="none" stroke-width="0"/>
<rect x="702.24" y="286.8" width="1.64" height="8.8" rx="0" fill="#2a2a2a" stroke="none" stroke-width="0"/>
<rect x="706.34" y="286.8" width="1.97" height="8.8" rx="0" fill="#2a2a2a" stroke="none" stroke-width="0"/>
<path d="M699.94,287.4 L701.01,291.6 L702.08,287.4" fill="none" stroke="#666" stroke-width="0.6"/>
<line x1="692.4" y1="293.6" x2="708.8" y2="293.6" stroke="#141414" stroke-width="0.6"/>
<line x1="698.8" y1="276.9" x2="698.8" y2="296.1" stroke="#141414" stroke-width="0.9"/>
<path d="M709.7,271.2 L709.7,304.8" fill="none" stroke="#141414" stroke-width="1.3" stroke-dasharray="2.2 1"/>
<rect x="710.8" y="283.2" width="5.4" height="8.4" rx="0" fill="#fff" stroke="#141414" stroke-width="0.9"/>
<line x1="714" y1="283.2" x2="714" y2="291.6" stroke="#141414" stroke-width="0.6"/>
<circle cx="694.4" cy="299.2" r="0.8" fill="#141414"/>
<path d="M701.6,298.6 L704.4,298.6 L703.6,300.6" fill="none" stroke="#141414" stroke-width="0.8"/>
<circle cx="696" cy="277.2" r="0.7" fill="#141414"/>
<circle cx="706" cy="275.6" r="0.7" fill="#141414"/>
<polygon points="652.6,280.6 649.7,282.6 652.6,284.6" fill="#111" stroke="#141414" stroke-width="0.3" stroke-linejoin="round"/>
<polygon points="652.6,289.4 649.7,292.2 652.6,294.6" fill="#111" stroke="#141414" stroke-width="0.3" stroke-linejoin="round"/>
<polygon points="683.7,280.6 686.6,282.6 683.7,284.6" fill="#111" stroke="#141414" stroke-width="0.3" stroke-linejoin="round"/>
<polygon points="683.7,289.4 686.6,292.2 683.7,294.6" fill="#111" stroke="#141414" stroke-width="0.3" stroke-linejoin="round"/>
<line x1="652.4" y1="278" x2="652.4" y2="295.4" stroke="#141414" stroke-width="2.2"/>
<line x1="683.9" y1="278" x2="683.9" y2="295.4" stroke="#141414" stroke-width="2.2"/>
<line x1="622.4" y1="169.4" x2="622.4" y2="276.5" stroke="#222" stroke-width="0.75"/>
<line x1="713.9" y1="169.4" x2="713.9" y2="297" stroke="#222" stroke-width="0.75"/>
<line x1="622.4" y1="173.2" x2="713.9" y2="173.2" stroke="#222" stroke-width="0.75"/>
<polygon points="622.4,173.2 640.9,170.1 640.9,176.3" fill="#000"/>
<polygon points="713.9,173.2 695.4,170.1 695.4,176.3" fill="#000"/>
<text x="666.1" y="166.2" font-size="20" text-anchor="middle">G</text>
<line x1="613.7" y1="444.8" x2="749.4" y2="444.8" stroke="#222" stroke-width="0.75"/>
<polygon points="649.8,444.8 631.3,441.7 631.3,447.9" fill="#000"/>
<polygon points="686.5,444.8 705,441.7 705,447.9" fill="#000"/>
<text x="728.5" y="438.2" font-size="20" text-anchor="start">F</text>
<line x1="640" y1="669" x2="640" y2="793.5" stroke="#222" stroke-width="0.75"/>
<line x1="696.2" y1="669" x2="696.2" y2="793.5" stroke="#222" stroke-width="0.75"/>
<line x1="640" y1="790.7" x2="696.2" y2="790.7" stroke="#222" stroke-width="0.75"/>
<polygon points="640,790.7 658.5,787.6 658.5,793.8" fill="#000"/>
<polygon points="696.2,790.7 677.7,787.6 677.7,793.8" fill="#000"/>
<text x="665.5" y="783.7" font-size="20" text-anchor="middle">H</text>
<text x="488.4" y="210.2" font-size="20" text-anchor="start">OPSİYON-1</text>
<text x="488.4" y="230.9" font-size="20" text-anchor="start">OPTION-1</text>
<g transform="translate(747 0)">
<path d="M229.9,295.5 A63.8,73.1 0 0 1 293.7,222.4 A108.3,73.1 0 0 1 402,295.5" fill="none" stroke="#141414" stroke-width="0.95"/>
<line x1="293.7" y1="219.8" x2="293.7" y2="262" stroke="#141414" stroke-width="1.6"/>
<circle cx="293.7" cy="219.8" r="2.0" fill="#141414"/>
<circle cx="293.7" cy="237.5" r="2.0" fill="#141414"/>
<circle cx="293.7" cy="254.6" r="2.0" fill="#141414"/>
<line x1="226.5" y1="295.7" x2="405.2" y2="295.7" stroke="#141414" stroke-width="1.8"/>
<line x1="225" y1="344" x2="405.2" y2="344" stroke="#141414" stroke-width="1.9"/>
<line x1="230.9" y1="295.7" x2="230.9" y2="344" stroke="#141414" stroke-width="1.7"/>
<line x1="401" y1="295.7" x2="401" y2="344" stroke="#141414" stroke-width="1.7"/>
<circle cx="227.4" cy="295.7" r="2.15" fill="#141414"/>
<circle cx="244.7" cy="295.7" r="2.15" fill="#141414"/>
<circle cx="262" cy="295.7" r="2.15" fill="#141414"/>
<circle cx="327.4" cy="295.7" r="2.15" fill="#141414"/>
<circle cx="346.6" cy="295.7" r="2.15" fill="#141414"/>
<circle cx="365.8" cy="295.7" r="2.15" fill="#141414"/>
<circle cx="385" cy="295.7" r="2.15" fill="#141414"/>
<circle cx="404.6" cy="295.7" r="2.15" fill="#141414"/>
<circle cx="230.9" cy="301.3" r="2.15" fill="#141414"/>
<circle cx="401" cy="301.3" r="2.15" fill="#141414"/>
<circle cx="230.9" cy="320" r="2.15" fill="#141414"/>
<circle cx="401" cy="320" r="2.15" fill="#141414"/>
<circle cx="230.9" cy="338.4" r="2.15" fill="#141414"/>
<circle cx="401" cy="338.4" r="2.15" fill="#141414"/>
<circle cx="366.2" cy="344" r="2.15" fill="#141414"/>
<circle cx="385" cy="344" r="2.15" fill="#141414"/>
<circle cx="404.3" cy="344" r="2.15" fill="#141414"/>
<circle cx="359.8" cy="340.9" r="0.9" fill="#141414"/>
<rect x="338.6" y="301.7" width="51.6" height="36.7" rx="4.2" fill="none" stroke="#141414" stroke-width="1.25"/>
<circle cx="342.4" cy="305.1" r="1.4" fill="#141414"/>
<circle cx="364.1" cy="304.2" r="1.4" fill="#141414"/>
<circle cx="386.9" cy="305.1" r="1.4" fill="#141414"/>
<circle cx="340.5" cy="320" r="1.4" fill="#141414"/>
<circle cx="388.3" cy="320" r="1.4" fill="#141414"/>
<circle cx="342.4" cy="335.7" r="1.4" fill="#141414"/>
<circle cx="364.1" cy="336.5" r="1.4" fill="#141414"/>
<circle cx="386.3" cy="335.7" r="1.4" fill="#141414"/>
<polygon points="224.8,344.6 267,344.6 260.6,350 230.4,350" fill="none" stroke="#141414" stroke-width="1.0" stroke-linejoin="round"/>
<polygon points="320.6,344.6 362.9,344.6 357.3,350 327,350" fill="none" stroke="#141414" stroke-width="1.0" stroke-linejoin="round"/>
<line x1="230.6" y1="350" x2="230.6" y2="575.4" stroke="#141414" stroke-width="1.55"/>
<line x1="260.6" y1="350" x2="260.6" y2="575.4" stroke="#141414" stroke-width="1.55"/>
<line x1="327.2" y1="350" x2="327.2" y2="575.4" stroke="#141414" stroke-width="1.55"/>
<line x1="357.3" y1="350" x2="357.3" y2="575.4" stroke="#141414" stroke-width="1.55"/>
<polygon points="230.6,575.4 260.6,575.4 266.7,581 225.4,581" fill="none" stroke="#141414" stroke-width="1.0" stroke-linejoin="round"/>
<polygon points="327.2,575.4 357.3,575.4 363.2,581 321.9,581" fill="none" stroke="#141414" stroke-width="1.0" stroke-linejoin="round"/>
<polygon points="368.5,344.6 378.6,363.1 389.5,363.1" fill="#141414" stroke="#141414" stroke-width="0.6" stroke-linejoin="round"/>
<polygon points="401.2,344.6 401.2,363.1 389.5,363.1" fill="#141414" stroke="#141414" stroke-width="0.6" stroke-linejoin="round"/>
<line x1="370.01" y1="347.38" x2="380.42" y2="363.1" stroke="#bbb" stroke-width="0.35"/>
<line x1="401.2" y1="347.38" x2="391.45" y2="363.1" stroke="#bbb" stroke-width="0.35"/>
<line x1="370.01" y1="347.38" x2="382.23" y2="363.1" stroke="#bbb" stroke-width="0.35"/>
<line x1="401.2" y1="347.38" x2="393.4" y2="363.1" stroke="#bbb" stroke-width="0.35"/>
<line x1="370.01" y1="347.38" x2="384.05" y2="363.1" stroke="#bbb" stroke-width="0.35"/>
<line x1="401.2" y1="347.38" x2="395.35" y2="363.1" stroke="#bbb" stroke-width="0.35"/>
<line x1="370.01" y1="347.38" x2="385.87" y2="363.1" stroke="#bbb" stroke-width="0.35"/>
<line x1="401.2" y1="347.38" x2="397.3" y2="363.1" stroke="#bbb" stroke-width="0.35"/>
<line x1="370.01" y1="347.38" x2="387.68" y2="363.1" stroke="#bbb" stroke-width="0.35"/>
<line x1="401.2" y1="347.38" x2="399.25" y2="363.1" stroke="#bbb" stroke-width="0.35"/>
<rect x="378" y="363.1" width="23.2" height="10.3" rx="0" fill="none" stroke="#141414" stroke-width="0.8"/>
<line x1="377.6" y1="373.4" x2="401.6" y2="373.4" stroke="#141414" stroke-width="1.4"/>
<rect x="270.2" y="296.4" width="47.6" height="47.4" rx="0" fill="#fff" stroke="#141414" stroke-width="0.8"/>
<line x1="270.7" y1="296.4" x2="270.7" y2="343.8" stroke="#141414" stroke-width="1.5"/>
<line x1="317.3" y1="296.4" x2="317.3" y2="343.8" stroke="#141414" stroke-width="1.5"/>
<rect x="270.2" y="304.8" width="47.6" height="8.5" rx="0" fill="#fff" stroke="#141414" stroke-width="0.9"/>
<rect x="278.4" y="313.3" width="31.1" height="30.5" rx="0" fill="none" stroke="#141414" stroke-width="0.9"/>
<line x1="272.6" y1="313.3" x2="272.6" y2="343.8" stroke="#141414" stroke-width="0.6"/>
<line x1="315.3" y1="313.3" x2="315.3" y2="343.8" stroke="#141414" stroke-width="0.6"/>
<rect x="270.2" y="307.6" width="3" height="2.8" rx="0" fill="none" stroke="#141414" stroke-width="0.9"/>
<circle cx="273.2" cy="309" r="1.6" fill="#fff" stroke="#141414" stroke-width="1.4"/>
<rect x="270.2" y="330" width="3" height="2.8" rx="0" fill="none" stroke="#141414" stroke-width="0.9"/>
<circle cx="273.2" cy="331.4" r="1.6" fill="#fff" stroke="#141414" stroke-width="1.4"/>
<rect x="314.3" y="307.6" width="3" height="2.8" rx="0" fill="none" stroke="#141414" stroke-width="0.9"/>
<circle cx="314.3" cy="309" r="1.6" fill="#fff" stroke="#141414" stroke-width="1.4"/>
<rect x="314.3" y="330" width="3" height="2.8" rx="0" fill="none" stroke="#141414" stroke-width="0.9"/>
<circle cx="314.3" cy="331.4" r="1.6" fill="#fff" stroke="#141414" stroke-width="1.4"/>
<circle cx="275.3" cy="319.8" r="1.45" fill="none" stroke="#141414" stroke-width="1.4"/>
<circle cx="275.3" cy="339.8" r="1.45" fill="none" stroke="#141414" stroke-width="1.4"/>
<circle cx="312.5" cy="319.8" r="1.45" fill="none" stroke="#141414" stroke-width="1.4"/>
<circle cx="312.5" cy="339.8" r="1.45" fill="none" stroke="#141414" stroke-width="1.4"/>
<circle cx="293.7" cy="339.8" r="1.9" fill="#141414"/>
<line x1="224.8" y1="581.3" x2="363.2" y2="581.3" stroke="#141414" stroke-width="1.9"/>
<line x1="231" y1="581.4" x2="231" y2="691" stroke="#141414" stroke-width="1.7"/>
<line x1="357" y1="581.4" x2="357" y2="691" stroke="#141414" stroke-width="1.7"/>
<circle cx="231" cy="588.3" r="2.1" fill="#141414"/>
<circle cx="357" cy="588.3" r="2.1" fill="#141414"/>
<circle cx="231" cy="602.9" r="2.1" fill="#141414"/>
<circle cx="357" cy="602.9" r="2.1" fill="#141414"/>
<circle cx="231" cy="616.9" r="2.1" fill="#141414"/>
<circle cx="357" cy="616.9" r="2.1" fill="#141414"/>
<circle cx="231" cy="631.2" r="2.1" fill="#141414"/>
<circle cx="357" cy="631.2" r="2.1" fill="#141414"/>
<circle cx="231" cy="654.5" r="2.1" fill="#141414"/>
<circle cx="357" cy="654.5" r="2.1" fill="#141414"/>
<circle cx="231" cy="678.3" r="2.1" fill="#141414"/>
<circle cx="357" cy="678.3" r="2.1" fill="#141414"/>
<path d="M231,691 C231,712 243,730 262,738.3 L326,738.3 C345,730 357,712 357,691" fill="none" stroke="#141414" stroke-width="0.9"/>
<rect x="251.4" y="738.9" width="85.3" height="10.2" rx="0" fill="none" stroke="#141414" stroke-width="0.9"/>
<line x1="251.4" y1="738.9" x2="336.7" y2="738.9" stroke="#141414" stroke-width="1.6"/>
<line x1="251.4" y1="749.1" x2="336.7" y2="749.1" stroke="#141414" stroke-width="1.6"/>
<path d="M223,686.9 L226.6,683 L229,683 Q231,684 231,688" fill="none" stroke="#141414" stroke-width="1.1"/>
<path d="M357.4,687.4 L360.3,682.6 L365,686.9" fill="none" stroke="#141414" stroke-width="1.1"/>
<path d="M248.1,627.5 A45.9,37.4 0 0 1 339.9,627.5 L339.9,672.5 A45.9,37.7 0 0 1 248.1,672.5 Z" fill="none" stroke="#141414" stroke-width="0.95"/>
<circle cx="259.3" cy="610.3" r="1.6" fill="#141414"/>
<circle cx="328.7" cy="610.3" r="1.6" fill="#141414"/>
<circle cx="251" cy="635.7" r="1.6" fill="#141414"/>
<circle cx="337" cy="635.7" r="1.6" fill="#141414"/>
<circle cx="251" cy="664.2" r="1.6" fill="#141414"/>
<circle cx="337" cy="664.2" r="1.6" fill="#141414"/>
<circle cx="259.3" cy="689.6" r="1.6" fill="#141414"/>
<circle cx="328.7" cy="689.6" r="1.6" fill="#141414"/>
<circle cx="280.6" cy="705" r="1.6" fill="#141414"/>
<circle cx="307.4" cy="705" r="1.6" fill="#141414"/>
<circle cx="280.6" cy="594.8" r="1.6" fill="#141414"/>
<circle cx="306.8" cy="594.8" r="1.6" fill="#141414"/>
<circle cx="236.5" cy="687.9" r="1.35" fill="#141414"/>
<circle cx="236.5" cy="696.8" r="1.35" fill="#141414"/>
<circle cx="351.4" cy="687.9" r="1.35" fill="#141414"/>
<circle cx="351.4" cy="696.8" r="1.35" fill="#141414"/>
<circle cx="254.7" cy="710.2" r="1.35" fill="#141414"/>
<circle cx="250.6" cy="714.1" r="1.35" fill="#141414"/>
<circle cx="333.3" cy="710.2" r="1.35" fill="#141414"/>
<circle cx="337" cy="714.1" r="1.35" fill="#141414"/>
<circle cx="266.5" cy="732.7" r="1.35" fill="#141414"/>
<circle cx="273.3" cy="732.7" r="1.35" fill="#141414"/>
<circle cx="314.7" cy="732.7" r="1.35" fill="#141414"/>
<circle cx="321.5" cy="732.7" r="1.35" fill="#141414"/>
<line x1="274.6" y1="594.5" x2="274.6" y2="704.5" stroke="#141414" stroke-width="2.1"/>
<circle cx="274.6" cy="602.7" r="2.2" fill="#141414"/>
<circle cx="274.6" cy="634.1" r="2.2" fill="#141414"/>
<circle cx="274.6" cy="665.7" r="2.2" fill="#141414"/>
<circle cx="274.6" cy="697.3" r="2.2" fill="#141414"/>
<line x1="313.3" y1="594.5" x2="313.3" y2="704.5" stroke="#141414" stroke-width="2.1"/>
<circle cx="313.3" cy="602.7" r="2.2" fill="#141414"/>
<circle cx="313.3" cy="634.1" r="2.2" fill="#141414"/>
<circle cx="313.3" cy="665.7" r="2.2" fill="#141414"/>
<circle cx="313.3" cy="697.3" r="2.2" fill="#141414"/>
<path d="M276,624.4 Q294,614.8 312,624.4" fill="none" stroke="#141414" stroke-width="0.8"/>
<path d="M274.6,697.4 Q294,707.6 313.4,697.4" fill="none" stroke="#141414" stroke-width="0.8"/>
<rect x="282.1" y="575.7" width="23.6" height="5.5" rx="0" fill="none" stroke="#141414" stroke-width="0.8"/>
<path d="M274.7,582 L312.7,582 L312.7,587.5 Q312.7,589.7 310.5,589.7 L276.9,589.7 Q274.7,589.7 274.7,587.5 Z" fill="#fff" stroke="#141414" stroke-width="0.8"/>
<line x1="286.1" y1="582" x2="286.1" y2="589.7" stroke="#141414" stroke-width="0.7"/>
<line x1="287.5" y1="582" x2="287.5" y2="589.7" stroke="#141414" stroke-width="0.7"/>
<line x1="300.2" y1="582" x2="300.2" y2="589.7" stroke="#141414" stroke-width="0.7"/>
<line x1="301.5" y1="582" x2="301.5" y2="589.7" stroke="#141414" stroke-width="0.7"/>
<circle cx="279.5" cy="586" r="1.6" fill="none" stroke="#141414" stroke-width="0.8"/>
<circle cx="308.1" cy="586" r="1.6" fill="none" stroke="#141414" stroke-width="0.8"/>
<line x1="293.9" y1="570" x2="293.9" y2="620" stroke="#000" stroke-width="3.7"/>
<rect x="291.9" y="578.6" width="4.1" height="2.6" rx="0" fill="#fff" stroke="#141414" stroke-width="0.6"/>
<rect x="291.4" y="583.4" width="5.1" height="2.6" rx="0" fill="#fff" stroke="#141414" stroke-width="0.6"/>
<line x1="293.9" y1="578.6" x2="293.9" y2="581.2" stroke="#141414" stroke-width="0.5"/>
<line x1="293.9" y1="583.4" x2="293.9" y2="586" stroke="#141414" stroke-width="0.5"/>
<rect x="291.8" y="620" width="4.4" height="2.6" rx="0" fill="#fff" stroke="#141414" stroke-width="0.6"/>
<rect x="291.6" y="624.8" width="4.8" height="2.8" rx="0" fill="#fff" stroke="#141414" stroke-width="0.6"/>
<line x1="294" y1="620" x2="294" y2="622.6" stroke="#141414" stroke-width="0.5"/>
<line x1="294" y1="624.8" x2="294" y2="627.6" stroke="#141414" stroke-width="0.5"/>
<path d="M283.4,631.6 L286.4,624 L301.6,624 L304.4,631.6" fill="none" stroke="#141414" stroke-width="1.3"/>
<rect x="281.3" y="648.1" width="24.9" height="25.7" rx="2.2" fill="#fff" stroke="#141414" stroke-width="0.8"/>
<line x1="284.2" y1="651.1" x2="287.5" y2="654.6" stroke="#141414" stroke-width="0.7"/>
<line x1="284.2" y1="670.9" x2="287.5" y2="667.4" stroke="#141414" stroke-width="0.7"/>
<line x1="303.2" y1="651.1" x2="299.9" y2="654.6" stroke="#141414" stroke-width="0.7"/>
<line x1="303.2" y1="670.9" x2="299.9" y2="667.4" stroke="#141414" stroke-width="0.7"/>
<circle cx="293.7" cy="661" r="8.9" fill="none" stroke="#141414" stroke-width="0.8"/>
<circle cx="293.7" cy="661" r="7.4" fill="none" stroke="#141414" stroke-width="1.2"/>
<circle cx="293.7" cy="661" r="5.5" fill="none" stroke="#141414" stroke-width="1.0"/>
<circle cx="293.7" cy="661" r="3.6" fill="none" stroke="#141414" stroke-width="1.3"/>
<circle cx="284.2" cy="651.2" r="1.8" fill="#fff" stroke="#141414" stroke-width="1.6"/>
<circle cx="284.2" cy="670.9" r="1.8" fill="#fff" stroke="#141414" stroke-width="1.6"/>
<circle cx="303.3" cy="651.2" r="1.8" fill="#fff" stroke="#141414" stroke-width="1.6"/>
<circle cx="303.3" cy="670.9" r="1.8" fill="#fff" stroke="#141414" stroke-width="1.6"/>
<rect x="372.1" y="614" width="23.6" height="9.3" rx="0" fill="none" stroke="#141414" stroke-width="1.0"/>
<rect x="358" y="623.3" width="53.4" height="3.7" rx="0" fill="none" stroke="#141414" stroke-width="1.1"/>
<line x1="403.7" y1="627" x2="358.2" y2="679.3" stroke="#141414" stroke-width="1.05"/>
<circle cx="395.7" cy="630.8" r="1.25" fill="#fff" stroke="#141414" stroke-width="0.9"/>
<circle cx="383.9" cy="645" r="1.25" fill="#fff" stroke="#141414" stroke-width="0.9"/>
<circle cx="372.1" cy="660.1" r="1.25" fill="#fff" stroke="#141414" stroke-width="0.9"/>
<circle cx="360.7" cy="674.6" r="1.25" fill="#fff" stroke="#141414" stroke-width="0.9"/>
<circle cx="362.2" cy="622.8" r="1.1" fill="#141414"/>
<circle cx="384.9" cy="622.8" r="1.1" fill="#141414"/>
<circle cx="407.7" cy="622.8" r="1.1" fill="#141414"/>
</g>
<path d="M906.4,326.6 L977,326.6 L977,343.6 L972.8,343.6 L906.4,331.6 Z" fill="#fff" stroke="#141414" stroke-width="0.8"/>
<line x1="906.4" y1="331.6" x2="977" y2="331.6" stroke="#141414" stroke-width="0.8"/>
<rect x="1023.3" y="265.8" width="35.5" height="37.4" rx="1.5" fill="#fff" stroke="#141414" stroke-width="0.9"/>
<circle cx="1041" cy="277.2" r="3.6" fill="none" stroke="#141414" stroke-width="0.8"/>
<path d="M1023.5,270.5 L1028,266 M1058.6,270.5 L1054,266" fill="none" stroke="#141414" stroke-width="0.6"/>
<circle cx="1026.4" cy="268.8" r="1" fill="none" stroke="#141414" stroke-width="0.5"/>
<circle cx="1055.8" cy="268.8" r="1" fill="none" stroke="#141414" stroke-width="0.5"/>
<rect x="1046" y="303.2" width="14.6" height="3.2" rx="0" fill="#fff" stroke="#141414" stroke-width="0.8"/>
<circle cx="1051.8" cy="305" r="1.2" fill="#141414"/>
<circle cx="1063" cy="309" r="2.2" fill="#fff" stroke="#141414" stroke-width="1.1"/>
<polygon points="909.5,326.2 916,316.2 923,316.2 919.6,326.2" fill="#fff" stroke="#141414" stroke-width="0.8" stroke-linejoin="round"/>
<polygon points="951,326.2 954.6,316.2 955.6,316.2 961.6,326.2" fill="#fff" stroke="#141414" stroke-width="0.8" stroke-linejoin="round"/>
<line x1="910.6" y1="323.4" x2="920.4" y2="323.4" stroke="#141414" stroke-width="0.5"/>
<line x1="951.8" y1="323.4" x2="960" y2="323.4" stroke="#141414" stroke-width="0.5"/>
<rect x="922.2" y="264" width="26.9" height="11" rx="0" fill="#fff" stroke="#141414" stroke-width="0.9"/>
<line x1="921.6" y1="263.9" x2="949.8" y2="263.9" stroke="#141414" stroke-width="1.9"/>
<line x1="924.5" y1="265" x2="924.5" y2="275" stroke="#141414" stroke-width="0.6"/>
<line x1="946.6" y1="265" x2="946.6" y2="275" stroke="#141414" stroke-width="0.6"/>
<path d="M923,275 L923,282 M948.4,275 L948.4,282 M926.4,275 L926.4,281 M945,275 L945,281" fill="none" stroke="#141414" stroke-width="1.2"/>
<line x1="922.4" y1="275.2" x2="949" y2="275.2" stroke="#141414" stroke-width="1.0"/>
<circle cx="935.2" cy="300.6" r="24.8" fill="#fff" stroke="#141414" stroke-width="1.5"/>
<path d="M950.26,317.32 A22.5,22.5 0 0 1 916.33,288.35" fill="none" stroke="#141414" stroke-width="3.4" stroke-dasharray="1.1 1.55"/>
<circle cx="935.2" cy="300.6" r="20.6" fill="#fff" stroke="#141414" stroke-width="1.3"/>
<rect x="923.4" y="277.4" width="3.6" height="5.6" rx="0" fill="#fff" stroke="#141414" stroke-width="0.9"/>
<rect x="944.4" y="277.4" width="3.6" height="5.6" rx="0" fill="#fff" stroke="#141414" stroke-width="0.9"/>
<path d="M934.39,282.83 L1030.42,277.63 A16.5,16.5 0 0 1 1032.38,310.57 L936.41,316.77 A17.0,17.0 0 0 1 934.39,282.83 Z" fill="#fff" stroke="#141414" stroke-width="0.9"/>
<circle cx="922.6" cy="286.6" r="0.6" fill="#141414"/>
<circle cx="922.6" cy="312.6" r="0.6" fill="#141414"/>
<line x1="906.5" y1="196.7" x2="906.5" y2="320.7" stroke="#222" stroke-width="0.75"/>
<line x1="1153.9" y1="196.7" x2="1153.9" y2="291.3" stroke="#222" stroke-width="0.75"/>
<line x1="906.5" y1="201.5" x2="1153.9" y2="201.5" stroke="#222" stroke-width="0.75"/>
<polygon points="906.5,201.5 925,198.4 925,204.6" fill="#000"/>
<polygon points="1153.9,201.5 1135.4,198.4 1135.4,204.6" fill="#000"/>
<text x="1027.8" y="195.4" font-size="20" text-anchor="middle">L</text>
<text x="787.6" y="210.2" font-size="20" text-anchor="start">OPSİYON-2</text>
<text x="787.6" y="231.6" font-size="20" text-anchor="start">OPTION-2</text>
<g transform="translate(608.5 0)">
<path d="M652.7,277.8 Q647,277.8 647,272.4 L647,220 Q647,217.3 649.7,217.3 L687,217.3 Q689.7,217.3 689.7,220 L689.7,272.4 Q689.7,277.8 683.6,277.8" fill="none" stroke="#141414" stroke-width="0.9"/>
<path d="M648,272 L648,220.4 Q648,218.4 650,218.4 L686.7,218.4 Q688.7,218.4 688.7,220.4 L688.7,272" fill="none" stroke="#666" stroke-width="0.45"/>
<path d="M652.7,295.4 L652.7,223.1 L683.6,223.1 L683.6,295.4" fill="none" stroke="#141414" stroke-width="1.5"/>
<line x1="652.7" y1="257.6" x2="683.6" y2="257.6" stroke="#141414" stroke-width="0.7"/>
<circle cx="649.6" cy="220.3" r="1.3" fill="none" stroke="#141414" stroke-width="0.85"/>
<circle cx="686.8" cy="220.3" r="1.3" fill="none" stroke="#141414" stroke-width="0.85"/>
<circle cx="649.6" cy="237.3" r="1.3" fill="none" stroke="#141414" stroke-width="0.85"/>
<circle cx="686.8" cy="237.3" r="1.3" fill="none" stroke="#141414" stroke-width="0.85"/>
<circle cx="649.6" cy="254.8" r="1.3" fill="none" stroke="#141414" stroke-width="0.85"/>
<circle cx="686.8" cy="254.8" r="1.3" fill="none" stroke="#141414" stroke-width="0.85"/>
<circle cx="649.6" cy="272.3" r="1.3" fill="none" stroke="#141414" stroke-width="0.85"/>
<circle cx="686.8" cy="272.3" r="1.3" fill="none" stroke="#141414" stroke-width="0.85"/>
<circle cx="668.1" cy="220.3" r="1.3" fill="none" stroke="#141414" stroke-width="0.85"/>
<line x1="648" y1="295.7" x2="688.3" y2="295.7" stroke="#141414" stroke-width="1.9"/>
<circle cx="649.3" cy="295.7" r="2.2" fill="#141414"/>
<circle cx="668.1" cy="295.7" r="2.2" fill="#141414"/>
<circle cx="686.9" cy="295.7" r="2.2" fill="#141414"/>
<path d="M647.6,297 L647.6,343.5 M689,297 L689,343.5" fill="none" stroke="#141414" stroke-width="0.8"/>
<line x1="646.6" y1="307" x2="647.6" y2="308" stroke="#141414" stroke-width="0.6"/>
<line x1="690" y1="307" x2="689" y2="308" stroke="#141414" stroke-width="0.6"/>
<line x1="646.6" y1="313.5" x2="647.6" y2="314.5" stroke="#141414" stroke-width="0.6"/>
<line x1="690" y1="313.5" x2="689" y2="314.5" stroke="#141414" stroke-width="0.6"/>
<line x1="646.6" y1="326" x2="647.6" y2="327" stroke="#141414" stroke-width="0.6"/>
<line x1="690" y1="326" x2="689" y2="327" stroke="#141414" stroke-width="0.6"/>
<line x1="646.6" y1="332.5" x2="647.6" y2="333.5" stroke="#141414" stroke-width="0.6"/>
<line x1="690" y1="332.5" x2="689" y2="333.5" stroke="#141414" stroke-width="0.6"/>
<circle cx="649.7" cy="301.6" r="1.3" fill="none" stroke="#141414" stroke-width="0.85"/>
<circle cx="686.8" cy="301.6" r="1.3" fill="none" stroke="#141414" stroke-width="0.85"/>
<circle cx="649.7" cy="320" r="1.3" fill="none" stroke="#141414" stroke-width="0.85"/>
<circle cx="686.8" cy="320" r="1.3" fill="none" stroke="#141414" stroke-width="0.85"/>
<circle cx="649.7" cy="338.5" r="1.3" fill="none" stroke="#141414" stroke-width="0.85"/>
<circle cx="686.8" cy="338.5" r="1.3" fill="none" stroke="#141414" stroke-width="0.85"/>
<line x1="648" y1="344.1" x2="688.3" y2="344.1" stroke="#141414" stroke-width="1.9"/>
<circle cx="649.3" cy="344.1" r="2.2" fill="#141414"/>
<circle cx="668.1" cy="344.1" r="2.2" fill="#141414"/>
<circle cx="686.9" cy="344.1" r="2.2" fill="#141414"/>
<polygon points="651.9,345 656.7,363.2 668.1,363.2" fill="#141414" stroke="#141414" stroke-width="0.6" stroke-linejoin="round"/>
<polygon points="684.3,345 679.5,363.2 668.1,363.2" fill="#141414" stroke="#141414" stroke-width="0.6" stroke-linejoin="round"/>
<line x1="652.9" y1="347.5" x2="658.6" y2="363.2" stroke="#bbb" stroke-width="0.35"/>
<line x1="683.3" y1="347.5" x2="677.6" y2="363.2" stroke="#bbb" stroke-width="0.35"/>
<line x1="652.9" y1="347.5" x2="660.5" y2="363.2" stroke="#bbb" stroke-width="0.35"/>
<line x1="683.3" y1="347.5" x2="675.7" y2="363.2" stroke="#bbb" stroke-width="0.35"/>
<line x1="652.9" y1="347.5" x2="662.4" y2="363.2" stroke="#bbb" stroke-width="0.35"/>
<line x1="683.3" y1="347.5" x2="673.8" y2="363.2" stroke="#bbb" stroke-width="0.35"/>
<line x1="652.9" y1="347.5" x2="664.3" y2="363.2" stroke="#bbb" stroke-width="0.35"/>
<line x1="683.3" y1="347.5" x2="671.9" y2="363.2" stroke="#bbb" stroke-width="0.35"/>
<line x1="652.9" y1="347.5" x2="666.2" y2="363.2" stroke="#bbb" stroke-width="0.35"/>
<line x1="683.3" y1="347.5" x2="670" y2="363.2" stroke="#bbb" stroke-width="0.35"/>
<line x1="668.1" y1="345" x2="668.1" y2="363.2" stroke="#141414" stroke-width="0.7"/>
<rect x="656.7" y="363.2" width="22.8" height="9.8" rx="0" fill="none" stroke="#141414" stroke-width="0.8"/>
<line x1="649.8" y1="351" x2="649.8" y2="574.3" stroke="#141414" stroke-width="1.1"/>
<line x1="652.6" y1="351" x2="652.6" y2="574.3" stroke="#141414" stroke-width="1.1"/>
<line x1="683.7" y1="351" x2="683.7" y2="574.3" stroke="#141414" stroke-width="1.1"/>
<line x1="686.5" y1="351" x2="686.5" y2="574.3" stroke="#141414" stroke-width="1.1"/>
<line x1="649.8" y1="351" x2="652.6" y2="351" stroke="#141414" stroke-width="0.8"/>
<line x1="683.7" y1="351" x2="686.5" y2="351" stroke="#141414" stroke-width="0.8"/>
<line x1="649.8" y1="574.3" x2="652.6" y2="574.3" stroke="#141414" stroke-width="0.8"/>
<line x1="683.7" y1="574.3" x2="686.5" y2="574.3" stroke="#141414" stroke-width="0.8"/>
<rect x="652.8" y="575.3" width="30.6" height="5.1" rx="0" fill="none" stroke="#141414" stroke-width="0.8"/>
<line x1="645.3" y1="570" x2="645.3" y2="621.5" stroke="#000" stroke-width="3.0"/>
<rect x="643.1" y="577.2" width="4.4" height="3" rx="0" fill="#fff" stroke="#141414" stroke-width="0.6"/>
<rect x="643.1" y="619.6" width="4.4" height="3" rx="0" fill="#fff" stroke="#141414" stroke-width="0.6"/>
<line x1="691.2" y1="570" x2="691.2" y2="621.5" stroke="#000" stroke-width="3.0"/>
<rect x="689" y="577.2" width="4.4" height="3" rx="0" fill="#fff" stroke="#141414" stroke-width="0.6"/>
<rect x="689" y="619.6" width="4.4" height="3" rx="0" fill="#fff" stroke="#141414" stroke-width="0.6"/>
<line x1="642.6" y1="580.7" x2="695.6" y2="580.7" stroke="#141414" stroke-width="1.8"/>
<path d="M647,581.2 L642.4,581.2 Q640,581.2 640,584 Q640,588.6 645,588.6 L647,588.6" fill="none" stroke="#141414" stroke-width="1.2"/>
<path d="M689.2,581.2 L693.8,581.2 Q696.2,581.2 696.2,584 Q696.2,588.6 691.2,588.6 L689.2,588.6" fill="none" stroke="#141414" stroke-width="1.2"/>
<rect x="646.9" y="581.2" width="42.3" height="42.1" rx="0" fill="none" stroke="#141414" stroke-width="1.1"/>
<circle cx="649.6" cy="588.8" r="1.35" fill="#fff" stroke="#141414" stroke-width="0.95"/>
<circle cx="686.6" cy="588.8" r="1.35" fill="#fff" stroke="#141414" stroke-width="0.95"/>
<circle cx="649.6" cy="602.7" r="1.35" fill="#fff" stroke="#141414" stroke-width="0.95"/>
<circle cx="686.6" cy="602.7" r="1.35" fill="#fff" stroke="#141414" stroke-width="0.95"/>
<circle cx="649.6" cy="616.6" r="1.35" fill="#fff" stroke="#141414" stroke-width="0.95"/>
<circle cx="686.6" cy="616.6" r="1.35" fill="#fff" stroke="#141414" stroke-width="0.95"/>
<rect x="656.4" y="614.3" width="23.3" height="9" rx="0" fill="#fff" stroke="#141414" stroke-width="0.8"/>
<circle cx="668" cy="623" r="0.9" fill="#141414"/>
<line x1="642.6" y1="623.4" x2="695.6" y2="623.4" stroke="#141414" stroke-width="1.7"/>
<line x1="646.5" y1="627" x2="689.6" y2="627" stroke="#141414" stroke-width="1.4"/>
<path d="M646.5,623.6 L642.4,623.6 Q640,623.6 640,626.4 Q640,630.8 645,630.8 L646.5,630.8" fill="none" stroke="#141414" stroke-width="1.2"/>
<path d="M689.6,623.6 L693.8,623.6 Q696.2,623.6 696.2,626.4 Q696.2,630.8 691.2,630.8 L689.6,630.8" fill="none" stroke="#141414" stroke-width="1.2"/>
<line x1="653.2" y1="627" x2="653.2" y2="739.3" stroke="#141414" stroke-width="1.8"/>
<line x1="683.6" y1="627" x2="683.6" y2="739.3" stroke="#141414" stroke-width="1.8"/>
<line x1="651.4" y1="627" x2="651.4" y2="688" stroke="#141414" stroke-width="0.8"/>
<line x1="685.2" y1="627" x2="685.2" y2="688" stroke="#141414" stroke-width="0.8"/>
<path d="M646.6,630.8 L646.6,686 Q646.6,688.4 649,688.4 L653,688.4" fill="none" stroke="#141414" stroke-width="1.0"/>
<path d="M689.6,630.8 L689.6,686 Q689.6,688.4 687.2,688.4 L683.6,688.4" fill="none" stroke="#141414" stroke-width="1.0"/>
<line x1="648.2" y1="630.8" x2="648.2" y2="650" stroke="#141414" stroke-width="0.8"/>
<line x1="688" y1="630.8" x2="688" y2="650" stroke="#141414" stroke-width="0.8"/>
<circle cx="649.6" cy="631.2" r="1.3" fill="#fff" stroke="#141414" stroke-width="0.9"/>
<circle cx="686.6" cy="631.2" r="1.3" fill="#fff" stroke="#141414" stroke-width="0.9"/>
<circle cx="649.6" cy="654.5" r="1.3" fill="#fff" stroke="#141414" stroke-width="0.9"/>
<circle cx="686.6" cy="654.5" r="1.3" fill="#fff" stroke="#141414" stroke-width="0.9"/>
<circle cx="649.6" cy="677.8" r="1.3" fill="#fff" stroke="#141414" stroke-width="0.9"/>
<circle cx="686.6" cy="677.8" r="1.3" fill="#fff" stroke="#141414" stroke-width="0.9"/>
<path d="M646.6,648.5 Q644.6,650 644.6,654 L644.6,667 Q644.6,671 646.6,672.5" fill="none" stroke="#141414" stroke-width="1.0"/>
<path d="M689.6,648.5 Q691.6,650 691.6,654 L691.6,667 Q691.6,671 689.6,672.5" fill="none" stroke="#141414" stroke-width="1.0"/>
<rect x="640.3" y="654.6" width="4.3" height="11.6" rx="1.6" fill="none" stroke="#141414" stroke-width="1.0"/>
<rect x="691.6" y="654.6" width="4.3" height="11.6" rx="1.6" fill="none" stroke="#141414" stroke-width="1.0"/>
<line x1="642" y1="656" x2="642" y2="665" stroke="#141414" stroke-width="0.5"/>
<line x1="694.2" y1="656" x2="694.2" y2="665" stroke="#141414" stroke-width="0.5"/>
<path d="M653,689.6 L648.4,689.6 Q646.2,689.6 646.2,692 L646.2,701.5 Q646.2,704.6 649.4,704.6 L653,704.6" fill="none" stroke="#141414" stroke-width="1.05"/>
<path d="M683.6,689.6 L688,689.6 Q690.2,689.6 690.2,692 L690.2,701.5 Q690.2,704.6 687,704.6 L683.6,704.6" fill="none" stroke="#141414" stroke-width="1.05"/>
<line x1="653.2" y1="682.5" x2="683.6" y2="682.5" stroke="#141414" stroke-width="0.8"/>
<path d="M653.2,685.6 Q668.4,689.4 683.6,685.6" fill="none" stroke="#141414" stroke-width="0.8"/>
<line x1="656.9" y1="688.9" x2="656.9" y2="738.5" stroke="#141414" stroke-width="0.9"/>
<line x1="680.3" y1="688.9" x2="680.3" y2="738.5" stroke="#141414" stroke-width="0.9"/>
<line x1="653.2" y1="688.9" x2="656.9" y2="688.9" stroke="#141414" stroke-width="0.8"/>
<line x1="680.3" y1="688.9" x2="683.6" y2="688.9" stroke="#141414" stroke-width="0.8"/>
<line x1="654.7" y1="688.9" x2="654.7" y2="737.2" stroke="#141414" stroke-width="0.5"/>
<line x1="682.2" y1="688.9" x2="682.2" y2="737.2" stroke="#141414" stroke-width="0.5"/>
<circle cx="652.6" cy="697" r="1.4" fill="#141414"/>
<circle cx="684.2" cy="697" r="1.4" fill="#141414"/>
<circle cx="652.6" cy="710.3" r="1.4" fill="#141414"/>
<circle cx="684.2" cy="710.3" r="1.4" fill="#141414"/>
<circle cx="652.6" cy="713.4" r="1.4" fill="#141414"/>
<circle cx="684.2" cy="713.4" r="1.4" fill="#141414"/>
<circle cx="652.6" cy="732.4" r="1.4" fill="#141414"/>
<circle cx="684.2" cy="732.4" r="1.4" fill="#141414"/>
<circle cx="648.3" cy="697" r="1.3" fill="#141414"/>
<circle cx="688.2" cy="697" r="1.3" fill="#141414"/>
<line x1="651.2" y1="739.4" x2="685.2" y2="739.4" stroke="#141414" stroke-width="1.8"/>
<circle cx="656" cy="741.5" r="1.4" fill="#141414"/>
<circle cx="663.6" cy="741.5" r="1.4" fill="#141414"/>
<circle cx="671.7" cy="741.5" r="1.4" fill="#141414"/>
<circle cx="679.7" cy="741.5" r="1.4" fill="#141414"/>
<path d="M651.3,739.4 L651.3,749.2 L643.8,749.2" fill="none" stroke="#141414" stroke-width="1.3"/>
<path d="M685,739.4 L685,749.2 L692.9,749.2" fill="none" stroke="#141414" stroke-width="1.3"/>
</g>
<rect x="1255.5" y="296.6" width="42.7" height="47.4" rx="0" fill="#fff" stroke="none" stroke-width="0"/>
<g transform="translate(608.5 0)">
<line x1="648" y1="295.7" x2="688.3" y2="295.7" stroke="#141414" stroke-width="1.9"/>
<circle cx="649.3" cy="295.7" r="2.2" fill="#141414"/>
<circle cx="668.1" cy="295.7" r="2.2" fill="#141414"/>
<circle cx="686.9" cy="295.7" r="2.2" fill="#141414"/>
<path d="M647.6,297 L647.6,343.5 M689,297 L689,343.5" fill="none" stroke="#141414" stroke-width="0.8"/>
<line x1="646.6" y1="307" x2="647.6" y2="308" stroke="#141414" stroke-width="0.6"/>
<line x1="690" y1="307" x2="689" y2="308" stroke="#141414" stroke-width="0.6"/>
<line x1="646.6" y1="313.5" x2="647.6" y2="314.5" stroke="#141414" stroke-width="0.6"/>
<line x1="690" y1="313.5" x2="689" y2="314.5" stroke="#141414" stroke-width="0.6"/>
<line x1="646.6" y1="326" x2="647.6" y2="327" stroke="#141414" stroke-width="0.6"/>
<line x1="690" y1="326" x2="689" y2="327" stroke="#141414" stroke-width="0.6"/>
<line x1="646.6" y1="332.5" x2="647.6" y2="333.5" stroke="#141414" stroke-width="0.6"/>
<line x1="690" y1="332.5" x2="689" y2="333.5" stroke="#141414" stroke-width="0.6"/>
<circle cx="649.7" cy="301.6" r="1.3" fill="none" stroke="#141414" stroke-width="0.85"/>
<circle cx="686.8" cy="301.6" r="1.3" fill="none" stroke="#141414" stroke-width="0.85"/>
<circle cx="649.7" cy="320" r="1.3" fill="none" stroke="#141414" stroke-width="0.85"/>
<circle cx="686.8" cy="320" r="1.3" fill="none" stroke="#141414" stroke-width="0.85"/>
<circle cx="649.7" cy="338.5" r="1.3" fill="none" stroke="#141414" stroke-width="0.85"/>
<circle cx="686.8" cy="338.5" r="1.3" fill="none" stroke="#141414" stroke-width="0.85"/>
<line x1="648" y1="344.1" x2="688.3" y2="344.1" stroke="#141414" stroke-width="1.9"/>
<circle cx="649.3" cy="344.1" r="2.2" fill="#141414"/>
<circle cx="668.1" cy="344.1" r="2.2" fill="#141414"/>
<circle cx="686.9" cy="344.1" r="2.2" fill="#141414"/>
</g>
<rect x="1243" y="271.1" width="10.5" height="4.3" rx="1.5" fill="#fff" stroke="#141414" stroke-width="0.8"/>
<path d="M1240,275.1 L1256.1,275.1 L1256.1,327.6 L1240,327.6 Q1233.7,327.6 1233.7,321 L1233.7,281.8 Q1233.7,275.1 1240,275.1 Z" fill="#fff" stroke="#141414" stroke-width="1.0"/>
<line x1="1240.7" y1="275.1" x2="1240.7" y2="327.6" stroke="#141414" stroke-width="0.5"/>
<rect x="1256.1" y="276.4" width="46" height="48.6" rx="0" fill="#fff" stroke="#141414" stroke-width="1.0"/>
<line x1="1256.8" y1="285.4" x2="1301.9" y2="285.4" stroke="#141414" stroke-width="1.25"/>
<line x1="1256.8" y1="288.36" x2="1301.9" y2="288.36" stroke="#141414" stroke-width="1.25"/>
<line x1="1256.8" y1="291.32" x2="1301.9" y2="291.32" stroke="#141414" stroke-width="1.25"/>
<line x1="1256.8" y1="294.28" x2="1301.9" y2="294.28" stroke="#141414" stroke-width="1.25"/>
<line x1="1256.8" y1="297.24" x2="1301.9" y2="297.24" stroke="#141414" stroke-width="1.25"/>
<line x1="1256.8" y1="300.2" x2="1301.9" y2="300.2" stroke="#141414" stroke-width="1.25"/>
<line x1="1256.8" y1="303.16" x2="1301.9" y2="303.16" stroke="#141414" stroke-width="1.25"/>
<line x1="1256.8" y1="306.12" x2="1301.9" y2="306.12" stroke="#141414" stroke-width="1.25"/>
<line x1="1256.8" y1="309.08" x2="1301.9" y2="309.08" stroke="#141414" stroke-width="1.25"/>
<line x1="1256.8" y1="312.04" x2="1301.9" y2="312.04" stroke="#141414" stroke-width="1.25"/>
<line x1="1256.8" y1="315" x2="1301.9" y2="315" stroke="#141414" stroke-width="1.25"/>
<line x1="1256.8" y1="281.3" x2="1301.9" y2="281.3" stroke="#141414" stroke-width="0.6"/>
<rect x="1257.8" y="324.8" width="44.1" height="3.6" rx="0.8" fill="#fff" stroke="#141414" stroke-width="0.9"/>
<line x1="1267" y1="327.2" x2="1292" y2="327.2" stroke="#141414" stroke-width="1.3"/>
<rect x="1270.6" y="315.8" width="18" height="8.6" rx="0" fill="#fff" stroke="#141414" stroke-width="0.8"/>
<line x1="1256.8" y1="320.6" x2="1270.6" y2="320.6" stroke="#141414" stroke-width="0.6"/>
<line x1="1288.6" y1="320.6" x2="1301.9" y2="320.6" stroke="#141414" stroke-width="0.6"/>
<rect x="1256.8" y="276.6" width="45.1" height="2.4" rx="0" fill="#222" stroke="none" stroke-width="0"/>
<path d="M1260.6,284.4 L1260.6,280.4 A4.1,4.1 0 0 1 1268.8,280.4 L1268.8,284.4 Z" fill="#fff" stroke="#141414" stroke-width="0.8"/>
<circle cx="1264.7" cy="280.4" r="2.2" fill="#fff" stroke="#141414" stroke-width="1.2"/>
<line x1="1259" y1="288.2" x2="1271" y2="288.2" stroke="#444" stroke-width="1.6"/>
<rect x="1272.2" y="264.4" width="30.5" height="12" rx="1.2" fill="#fff" stroke="#141414" stroke-width="1.0"/>
<rect x="1274.8" y="265.6" width="24.4" height="10.8" rx="0" fill="#fff" stroke="#141414" stroke-width="0.7"/>
<path d="M1302.1,277.4 L1313,277.4 L1315.2,280 L1315.2,321 L1313,323.4 L1302.1,323.4 Z" fill="#fff" stroke="#141414" stroke-width="0.8"/>
<line x1="1306.6" y1="277.4" x2="1306.6" y2="323.4" stroke="#141414" stroke-width="0.5"/>
<rect x="1303" y="271.1" width="9.8" height="7.6" rx="1.5" fill="#fff" stroke="#141414" stroke-width="0.8"/>
<rect x="1315.2" y="267.2" width="18.5" height="11.1" rx="0" fill="#fff" stroke="#141414" stroke-width="0.8"/>
<rect x="1322.8" y="267.9" width="3.3" height="8.5" rx="0" fill="none" stroke="#141414" stroke-width="0.7"/>
<rect x="1316.6" y="278.3" width="19" height="40.1" rx="0" fill="#fff" stroke="#141414" stroke-width="0.8"/>
<line x1="1234.2" y1="324.8" x2="1234.2" y2="385.8" stroke="#222" stroke-width="0.75"/>
<line x1="1335.3" y1="323.4" x2="1335.3" y2="385.8" stroke="#222" stroke-width="0.75"/>
<line x1="1234.2" y1="382.6" x2="1335.3" y2="382.6" stroke="#222" stroke-width="0.75"/>
<polygon points="1234.2,382.6 1252.7,379.5 1252.7,385.7" fill="#000"/>
<polygon points="1335.3,382.6 1316.8,379.5 1316.8,385.7" fill="#000"/>
<text x="1310.6" y="375.7" font-size="20" text-anchor="middle">M</text>
</svg>
</body></html>
